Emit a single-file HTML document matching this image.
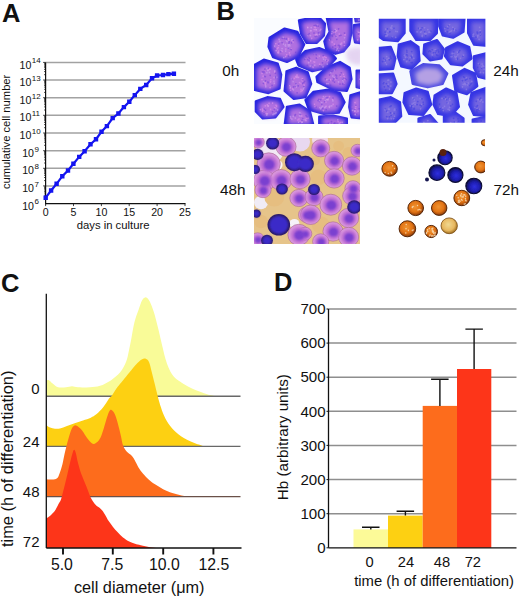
<!DOCTYPE html>
<html><head><meta charset="utf-8"><style>
html,body{margin:0;padding:0;background:#fff;width:520px;height:599px;overflow:hidden}
svg{display:block}
text{font-family:"Liberation Sans", sans-serif;fill:#111}
</style></head><body>
<svg width="520" height="599" viewBox="0 0 520 599">
<rect width="520" height="599" fill="#fff"/>
<g id="A">
<text x="2" y="21.7" font-size="25.5" font-weight="bold">A</text>
<line x1="45.6" y1="185.9" x2="185.5" y2="185.9" stroke="#a2a2a2" stroke-width="1.5"/>
<line x1="45.6" y1="168.3" x2="185.5" y2="168.3" stroke="#a2a2a2" stroke-width="1.5"/>
<line x1="45.6" y1="150.7" x2="185.5" y2="150.7" stroke="#a2a2a2" stroke-width="1.5"/>
<line x1="45.6" y1="133.0" x2="185.5" y2="133.0" stroke="#a2a2a2" stroke-width="1.5"/>
<line x1="45.6" y1="115.3" x2="185.5" y2="115.3" stroke="#a2a2a2" stroke-width="1.5"/>
<line x1="45.6" y1="97.7" x2="185.5" y2="97.7" stroke="#a2a2a2" stroke-width="1.5"/>
<line x1="45.6" y1="80.0" x2="185.5" y2="80.0" stroke="#a2a2a2" stroke-width="1.5"/>
<line x1="45.6" y1="62.4" x2="185.5" y2="62.4" stroke="#a2a2a2" stroke-width="1.5"/>
<line x1="45.6" y1="62.4" x2="45.6" y2="204.2" stroke="#111" stroke-width="1.2"/>
<line x1="45.0" y1="203.6" x2="185.5" y2="203.6" stroke="#111" stroke-width="1.2"/>
<path d="M45.6,198.3h-1.5M45.6,195.2h-1.5M45.6,193.0h-1.5M45.6,191.3h-1.5M45.6,189.9h-1.5M45.6,188.7h-1.5M45.6,187.7h-1.5M45.6,186.8h-1.5M45.6,185.9h-2.5M45.6,180.6h-1.5M45.6,177.5h-1.5M45.6,175.3h-1.5M45.6,173.6h-1.5M45.6,172.2h-1.5M45.6,171.0h-1.5M45.6,170.0h-1.5M45.6,169.1h-1.5M45.6,168.3h-2.5M45.6,163.0h-1.5M45.6,159.9h-1.5M45.6,157.7h-1.5M45.6,156.0h-1.5M45.6,154.6h-1.5M45.6,153.4h-1.5M45.6,152.4h-1.5M45.6,151.5h-1.5M45.6,150.7h-2.5M45.6,145.3h-1.5M45.6,142.2h-1.5M45.6,140.0h-1.5M45.6,138.3h-1.5M45.6,136.9h-1.5M45.6,135.7h-1.5M45.6,134.7h-1.5M45.6,133.8h-1.5M45.6,133.0h-2.5M45.6,127.7h-1.5M45.6,124.6h-1.5M45.6,122.4h-1.5M45.6,120.7h-1.5M45.6,119.3h-1.5M45.6,118.1h-1.5M45.6,117.1h-1.5M45.6,116.2h-1.5M45.6,115.3h-2.5M45.6,110.0h-1.5M45.6,106.9h-1.5M45.6,104.7h-1.5M45.6,103.0h-1.5M45.6,101.6h-1.5M45.6,100.4h-1.5M45.6,99.4h-1.5M45.6,98.5h-1.5M45.6,97.7h-2.5M45.6,92.4h-1.5M45.6,89.3h-1.5M45.6,87.1h-1.5M45.6,85.4h-1.5M45.6,84.0h-1.5M45.6,82.8h-1.5M45.6,81.8h-1.5M45.6,80.9h-1.5M45.6,80.0h-2.5M45.6,74.7h-1.5M45.6,71.6h-1.5M45.6,69.4h-1.5M45.6,67.7h-1.5M45.6,66.3h-1.5M45.6,65.1h-1.5M45.6,64.1h-1.5M45.6,63.2h-1.5M45.6,62.4h-2.5" stroke="#111" stroke-width="0.8" fill="none"/>
<path d="M45.6,203.6v2.5M73.5,203.6v2.5M101.4,203.6v2.5M129.2,203.6v2.5M157.1,203.6v2.5M185.0,203.6v2.5" stroke="#111" stroke-width="0.8" fill="none"/>
<text x="34.0" y="209.7" font-size="10.6" text-anchor="end">10</text>
<text x="34.6" y="204.4" font-size="8">6</text>
<text x="34.0" y="192.0" font-size="10.6" text-anchor="end">10</text>
<text x="34.6" y="186.8" font-size="8">7</text>
<text x="34.0" y="174.4" font-size="10.6" text-anchor="end">10</text>
<text x="34.6" y="169.1" font-size="8">8</text>
<text x="34.0" y="156.8" font-size="10.6" text-anchor="end">10</text>
<text x="34.6" y="151.5" font-size="8">9</text>
<text x="31.4" y="139.1" font-size="10.6" text-anchor="end">10</text>
<text x="31.7" y="133.8" font-size="8">10</text>
<text x="31.4" y="121.4" font-size="10.6" text-anchor="end">10</text>
<text x="31.7" y="116.1" font-size="8">11</text>
<text x="31.4" y="103.8" font-size="10.6" text-anchor="end">10</text>
<text x="31.7" y="98.5" font-size="8">12</text>
<text x="31.4" y="86.1" font-size="10.6" text-anchor="end">10</text>
<text x="31.7" y="80.8" font-size="8">13</text>
<text x="31.4" y="68.5" font-size="10.6" text-anchor="end">10</text>
<text x="31.7" y="63.2" font-size="8">14</text>
<text x="45.6" y="215.6" font-size="10.6" text-anchor="middle">0</text>
<text x="73.5" y="215.6" font-size="10.6" text-anchor="middle">5</text>
<text x="101.4" y="215.6" font-size="10.6" text-anchor="middle">10</text>
<text x="129.2" y="215.6" font-size="10.6" text-anchor="middle">15</text>
<text x="157.1" y="215.6" font-size="10.6" text-anchor="middle">20</text>
<text x="185.0" y="215.6" font-size="10.6" text-anchor="middle">25</text>
<text x="113.1" y="229.3" font-size="11.3" text-anchor="middle">days in culture</text>
<text transform="translate(10.3,131.9) rotate(-90)" font-size="11.2" text-anchor="middle">cumulative cell number</text>
<polyline points="45.7,197.7 51.1,190.5 56.6,183.8 62.3,176.2 68.0,170.5 73.4,163.8 79.2,156.9 84.6,151.2 90.5,144.2 96.0,139.2 101.5,131.8 106.9,126.1 112.7,118.1 118.4,113.5 123.9,107.1 129.3,101.7 134.8,95.1 140.3,88.9 146.2,85.0 152.0,78.3 157.1,75.5 163.0,75.0 168.4,74.1 173.9,73.7" fill="none" stroke="#1414f0" stroke-width="2.2"/>
<path d="M43.5,195.5h4.4v4.4h-4.4zM48.9,188.3h4.4v4.4h-4.4zM54.4,181.6h4.4v4.4h-4.4zM60.1,174.0h4.4v4.4h-4.4zM65.8,168.3h4.4v4.4h-4.4zM71.2,161.6h4.4v4.4h-4.4zM77.0,154.7h4.4v4.4h-4.4zM82.4,149.0h4.4v4.4h-4.4zM88.3,142.0h4.4v4.4h-4.4zM93.8,137.0h4.4v4.4h-4.4zM99.3,129.6h4.4v4.4h-4.4zM104.7,123.9h4.4v4.4h-4.4zM110.5,115.9h4.4v4.4h-4.4zM116.2,111.3h4.4v4.4h-4.4zM121.7,104.9h4.4v4.4h-4.4zM127.1,99.5h4.4v4.4h-4.4zM132.6,92.9h4.4v4.4h-4.4zM138.1,86.7h4.4v4.4h-4.4zM144.0,82.8h4.4v4.4h-4.4zM149.8,76.1h4.4v4.4h-4.4zM154.9,73.3h4.4v4.4h-4.4zM160.8,72.8h4.4v4.4h-4.4zM166.2,71.9h4.4v4.4h-4.4zM171.7,71.5h4.4v4.4h-4.4z" fill="#1414f0"/>
</g>
<g id="C">
<text x="1" y="291.5" font-size="25.5" font-weight="bold">C</text>
<path d="M46.0,380.4C46.5,380.4 48.0,379.8 49.0,380.2C50.0,380.6 50.5,381.8 52.0,383.0C53.5,384.2 55.7,386.5 58.0,387.2C60.3,387.9 63.7,387.5 66.0,387.3C68.3,387.1 70.0,386.2 72.0,386.2C74.0,386.2 75.0,387.1 78.0,387.3C81.0,387.5 86.3,387.4 90.0,387.2C93.7,386.9 96.5,386.9 100.0,385.8C103.5,384.7 107.4,382.6 110.8,380.4C114.2,378.1 117.6,375.4 120.2,372.3C122.8,369.2 124.8,365.1 126.2,361.5C127.7,357.9 128.0,354.8 128.9,350.8C129.8,346.8 130.6,342.5 131.5,337.7C132.4,332.9 133.3,326.6 134.5,322.0C135.7,317.4 137.2,313.6 138.5,310.0C139.8,306.4 140.9,302.6 142.0,300.5C143.1,298.4 144.1,297.6 145.2,297.4C146.3,297.2 147.4,298.1 148.5,299.5C149.6,300.9 150.5,303.0 151.5,305.5C152.5,308.0 153.6,311.2 154.6,314.6C155.6,318.0 156.5,321.9 157.5,325.8C158.5,329.7 159.5,334.1 160.4,338.0C161.3,341.9 162.2,345.5 163.0,349.0C163.8,352.5 164.6,355.9 165.5,359.0C166.4,362.1 167.4,364.9 168.5,367.5C169.6,370.1 170.8,372.4 172.0,374.3C173.2,376.2 174.7,377.6 176.0,378.8C177.3,380.0 178.0,380.3 180.0,381.6C182.0,382.9 185.3,385.2 188.0,386.6C190.7,388.1 193.3,389.2 196.0,390.3C198.7,391.4 201.7,392.4 204.0,393.2C206.3,394.0 208.0,394.5 210.0,395.0C212.0,395.5 215.0,396.0 216.0,396.2L216.0,396.2L46.0,396.2Z" fill="#f9fb98"/>
<line x1="46.3" y1="396.2" x2="240.5" y2="396.2" stroke="#686868" stroke-width="1.4"/>
<path d="M46.0,425.0C46.7,425.4 48.5,426.9 50.0,427.5C51.5,428.1 53.3,428.5 55.0,428.7C56.7,428.9 58.0,428.9 60.0,428.5C62.0,428.1 64.4,426.9 67.0,426.0C69.6,425.1 72.7,423.9 75.4,423.0C78.1,422.1 80.4,421.4 83.0,420.5C85.6,419.6 88.6,418.7 90.8,417.7C93.0,416.7 94.5,415.8 96.0,414.6C97.5,413.5 98.8,412.0 100.0,410.8C101.2,409.6 102.0,408.7 103.0,407.4C104.0,406.1 105.2,404.5 106.2,403.0C107.2,401.5 108.0,399.8 109.0,398.5C110.0,397.2 110.7,397.1 112.1,395.2C113.5,393.3 115.7,389.6 117.5,387.1C119.3,384.6 120.9,382.9 122.9,380.4C124.9,377.9 127.4,375.0 129.6,372.3C131.8,369.6 134.3,366.3 136.3,364.2C138.3,362.1 140.1,360.4 141.7,359.5C143.3,358.6 144.6,358.4 145.8,358.8C147.0,359.2 148.1,359.9 149.1,362.2C150.1,364.4 150.9,368.8 151.8,372.3C152.7,375.8 153.7,379.8 154.5,383.1C155.3,386.4 155.9,389.0 156.7,392.0C157.4,395.0 158.3,398.4 159.0,401.0C159.7,403.6 160.3,405.4 161.0,407.5C161.7,409.6 162.2,411.4 163.0,413.3C163.8,415.2 164.6,417.1 165.5,418.8C166.4,420.6 167.4,422.2 168.5,423.8C169.6,425.4 170.8,426.9 172.0,428.3C173.2,429.7 174.5,431.0 176.0,432.3C177.5,433.6 179.2,435.0 181.0,436.2C182.8,437.4 184.7,438.5 187.0,439.7C189.3,440.9 192.1,442.1 195.0,443.2C197.9,444.3 203.0,445.9 204.6,446.4L204.6,446.4L46.0,446.4Z" fill="#fdd012"/>
<line x1="46.3" y1="446.4" x2="240.5" y2="446.4" stroke="#686868" stroke-width="1.4"/>
<path d="M46.0,479.2C46.7,479.2 48.5,479.5 50.0,479.5C51.5,479.5 53.7,479.6 55.0,479.2C56.3,478.8 57.2,478.3 58.0,477.2C58.8,476.1 59.2,474.5 60.0,472.3C60.8,470.1 61.7,467.1 62.5,464.0C63.3,460.9 63.9,456.8 64.6,453.8C65.3,450.8 65.8,448.6 66.5,446.0C67.2,443.4 67.7,441.3 68.5,438.5C69.3,435.7 70.5,431.4 71.5,429.2C72.5,427.0 73.4,425.8 74.6,425.4C75.8,425.0 77.2,426.1 78.5,427.0C79.8,427.9 80.9,429.0 82.3,430.8C83.7,432.6 85.4,435.7 86.9,437.7C88.4,439.7 90.2,442.0 91.5,443.0C92.8,444.0 93.4,444.2 94.6,443.8C95.8,443.4 97.4,442.0 98.5,440.8C99.6,439.6 100.2,438.2 101.0,436.5C101.8,434.8 102.1,433.6 103.0,430.8C103.9,428.1 105.2,423.2 106.2,420.0C107.2,416.8 108.3,413.2 109.2,411.5C110.1,409.8 110.6,409.6 111.5,410.0C112.4,410.4 113.6,411.6 114.6,413.8C115.6,416.0 116.7,419.4 117.7,423.0C118.7,426.6 119.9,431.6 120.8,435.4C121.7,439.1 122.1,442.8 123.1,445.5C124.1,448.2 125.5,450.1 126.9,451.8C128.3,453.5 130.2,454.2 131.5,455.6C132.8,457.0 133.4,458.0 134.6,460.0C135.8,462.0 137.1,465.1 138.5,467.4C139.9,469.7 141.3,471.7 143.1,473.8C144.9,475.9 147.1,478.2 149.2,480.0C151.2,481.8 153.1,483.1 155.4,484.6C157.7,486.1 160.3,487.8 163.1,489.2C165.9,490.6 169.2,492.1 172.3,493.1C175.4,494.1 178.2,494.8 181.5,495.4C184.8,496.0 189.7,496.3 192.3,496.5C194.9,496.7 196.2,496.5 197.0,496.5L197.0,496.6L46.0,496.6Z" fill="#fd6c1c"/>
<line x1="46.3" y1="496.6" x2="240.5" y2="496.6" stroke="#6a5048" stroke-width="1.4"/>
<path d="M46.0,518.5C46.4,518.2 47.5,517.8 48.5,517.0C49.5,516.2 50.9,515.2 52.0,514.0C53.1,512.8 54.3,511.7 55.4,510.0C56.5,508.3 57.6,505.7 58.5,504.0C59.4,502.3 60.0,502.0 60.8,500.0C61.5,498.0 62.0,495.7 63.0,492.0C64.0,488.3 65.3,482.8 66.5,478.0C67.7,473.2 69.0,467.0 70.0,463.0C71.0,459.0 71.6,456.2 72.3,454.0C73.0,451.8 73.4,450.0 74.0,449.8C74.6,449.6 75.1,450.8 75.8,453.0C76.5,455.2 77.0,459.4 78.0,463.0C79.0,466.6 80.1,470.8 81.5,474.6C82.9,478.4 84.7,482.1 86.2,486.0C87.8,489.9 89.2,494.5 90.8,497.7C92.4,500.9 94.4,503.4 95.8,505.0C97.2,506.6 98.0,506.5 99.2,507.5C100.4,508.5 101.7,509.7 102.7,511.0C103.8,512.3 104.5,513.9 105.5,515.5C106.5,517.1 107.2,518.9 108.5,520.8C109.8,522.7 111.5,525.1 113.0,527.0C114.5,528.9 116.0,530.5 117.7,532.3C119.4,534.0 121.1,536.0 123.0,537.5C124.9,539.0 127.2,540.5 129.2,541.5C131.2,542.5 133.1,543.2 135.0,543.8C136.9,544.4 138.3,544.6 140.8,545.2C143.3,545.8 147.2,546.7 150.0,547.2C152.8,547.7 156.1,547.9 157.3,548.0L157.3,548.0L46.0,548.0Z" fill="#fd3519"/>
<line x1="46.3" y1="293.8" x2="46.3" y2="548.0" stroke="#111" stroke-width="1.3"/>
<line x1="46.3" y1="548.0" x2="241.5" y2="548.0" stroke="#111" stroke-width="1.3"/>
<line x1="63.0" y1="548.0" x2="63.0" y2="554.5" stroke="#111" stroke-width="1.9"/>
<line x1="112.8" y1="548.0" x2="112.8" y2="554.5" stroke="#111" stroke-width="1.9"/>
<line x1="163.2" y1="548.0" x2="163.2" y2="554.5" stroke="#111" stroke-width="1.9"/>
<line x1="213.4" y1="548.0" x2="213.4" y2="554.5" stroke="#111" stroke-width="1.9"/>
<text x="61.9" y="569.8" font-size="15.8" text-anchor="middle">5.0</text>
<text x="112.3" y="569.8" font-size="15.8" text-anchor="middle">7.5</text>
<text x="164.3" y="569.8" font-size="15.8" text-anchor="middle">10.0</text>
<text x="213.9" y="569.8" font-size="15.8" text-anchor="middle">12.5</text>
<text x="73.9" y="592.8" font-size="16.3">cell diameter (μm)</text>
<text x="39.5" y="394.0" font-size="15" text-anchor="end">0</text>
<text x="39.5" y="446.5" font-size="15" text-anchor="end">24</text>
<text x="39.5" y="497.0" font-size="15" text-anchor="end">48</text>
<text x="39.5" y="547.0" font-size="15" text-anchor="end">72</text>
<text transform="translate(13.2,458.8) rotate(-90)" font-size="16.4" text-anchor="middle">time (h of differentiation)</text>
</g>
<g id="D">
<text x="274" y="291.2" font-size="25.5" font-weight="bold">D</text>
<line x1="328.5" y1="513.7" x2="516.5" y2="513.7" stroke="#8e8e8e" stroke-width="1.5"/>
<line x1="328.5" y1="479.6" x2="516.5" y2="479.6" stroke="#8e8e8e" stroke-width="1.5"/>
<line x1="328.5" y1="445.4" x2="516.5" y2="445.4" stroke="#8e8e8e" stroke-width="1.5"/>
<line x1="328.5" y1="411.3" x2="516.5" y2="411.3" stroke="#8e8e8e" stroke-width="1.5"/>
<line x1="328.5" y1="377.2" x2="516.5" y2="377.2" stroke="#8e8e8e" stroke-width="1.5"/>
<line x1="328.5" y1="343.1" x2="516.5" y2="343.1" stroke="#8e8e8e" stroke-width="1.5"/>
<line x1="328.5" y1="309.0" x2="516.5" y2="309.0" stroke="#8e8e8e" stroke-width="1.5"/>
<rect x="353.5" y="529.4" width="34.5" height="18.4" fill="#fcfa98"/>
<rect x="388.0" y="515.6" width="34.7" height="32.2" fill="#fdd012"/>
<rect x="422.7" y="405.9" width="34.3" height="141.9" fill="#fd6c1c"/>
<rect x="457.0" y="369.0" width="34.3" height="178.8" fill="#fd3519"/>
<path d="M370.8,529.4V527.3M362.0,527.3h17.5" stroke="#111" stroke-width="1.4" fill="none"/>
<path d="M405.4,515.6V511.3M396.6,511.3h17.5" stroke="#111" stroke-width="1.4" fill="none"/>
<path d="M439.9,405.9V379.2M431.1,379.2h17.5" stroke="#111" stroke-width="1.4" fill="none"/>
<path d="M474.1,369.0V329.1M465.4,329.1h17.5" stroke="#111" stroke-width="1.4" fill="none"/>
<line x1="328.5" y1="309.0" x2="328.5" y2="547.8" stroke="#111" stroke-width="1.3"/>
<line x1="328.5" y1="547.8" x2="516.5" y2="547.8" stroke="#111" stroke-width="1.3"/>
<path d="M328.5,547.8h-2M328.5,513.7h-2M328.5,479.6h-2M328.5,445.4h-2M328.5,411.3h-2M328.5,377.2h-2M328.5,343.1h-2M328.5,309.0h-2" stroke="#111" stroke-width="1" fill="none"/>
<text x="325.6" y="553.0" font-size="15.1" text-anchor="end">0</text>
<text x="325.6" y="518.9" font-size="15.1" text-anchor="end">100</text>
<text x="325.6" y="484.8" font-size="15.1" text-anchor="end">200</text>
<text x="325.6" y="450.6" font-size="15.1" text-anchor="end">300</text>
<text x="325.6" y="416.5" font-size="15.1" text-anchor="end">400</text>
<text x="325.6" y="382.4" font-size="15.1" text-anchor="end">500</text>
<text x="325.6" y="348.3" font-size="15.1" text-anchor="end">600</text>
<text x="325.6" y="314.2" font-size="15.1" text-anchor="end">700</text>
<text x="369.6" y="566.5" font-size="14.7" text-anchor="middle">0</text>
<text x="406.0" y="566.5" font-size="14.7" text-anchor="middle">24</text>
<text x="442.0" y="566.5" font-size="14.7" text-anchor="middle">48</text>
<text x="472.8" y="566.5" font-size="14.7" text-anchor="middle">72</text>
<text x="354.2" y="586" font-size="14.85">time (h of differentiation)</text>
<text transform="translate(287.6,437.2) rotate(-90)" font-size="15.25" text-anchor="middle">Hb (arbitrary units)</text>
</g>
<g id="B">
<text x="216.5" y="19.8" font-size="25.5" font-weight="bold">B</text>
<text x="222.3" y="76.4" font-size="15.3">0h</text>
<text x="493.2" y="76.3" font-size="15.3">24h</text>
<text x="219.9" y="194.8" font-size="15.3">48h</text>
<text x="493.5" y="194.6" font-size="15.3">72h</text>
<defs>
<clipPath id="c0"><rect x="254" y="18" width="106" height="106"/></clipPath>
<clipPath id="c24"><rect x="378.8" y="18.8" width="106.6" height="104"/></clipPath>
<clipPath id="c48"><rect x="254" y="138" width="106" height="106"/></clipPath>
<clipPath id="c72"><rect x="379" y="138" width="106" height="106"/></clipPath>
<radialGradient id="g0" cx="50%" cy="50%" r="60%"><stop offset="0" stop-color="#c08ad8"/><stop offset="0.55" stop-color="#a070d8"/><stop offset="0.85" stop-color="#5040e0"/><stop offset="1" stop-color="#2c2ce0"/></radialGradient>
<radialGradient id="g24" cx="50%" cy="50%" r="60%"><stop offset="0" stop-color="#8a78dc"/><stop offset="0.6" stop-color="#6a5ce0"/><stop offset="1" stop-color="#3434e4"/></radialGradient>
<radialGradient id="g24p" cx="50%" cy="50%" r="60%"><stop offset="0" stop-color="#b898e0"/><stop offset="0.6" stop-color="#9a80dc"/><stop offset="1" stop-color="#4a44e0"/></radialGradient>
<radialGradient id="gp" cx="50%" cy="50%" r="55%"><stop offset="0" stop-color="#7a3cd0"/><stop offset="0.5" stop-color="#9a5cd0"/><stop offset="1" stop-color="#c890d0"/></radialGradient>
<radialGradient id="gb" cx="50%" cy="50%" r="55%"><stop offset="0" stop-color="#3a30c8"/><stop offset="0.8" stop-color="#3020a0"/><stop offset="1" stop-color="#201860"/></radialGradient>
<radialGradient id="go" cx="45%" cy="42%" r="58%"><stop offset="0" stop-color="#f09434"/><stop offset="0.6" stop-color="#e27414"/><stop offset="0.88" stop-color="#a84c0c"/><stop offset="1" stop-color="#6a3008"/></radialGradient>
<radialGradient id="gy" cx="45%" cy="42%" r="58%"><stop offset="0" stop-color="#f0d890"/><stop offset="0.65" stop-color="#e8b860"/><stop offset="1" stop-color="#a07020"/></radialGradient>
<radialGradient id="gdb" cx="55%" cy="55%" r="55%"><stop offset="0" stop-color="#2e2ee0"/><stop offset="0.55" stop-color="#1e1eb0"/><stop offset="0.85" stop-color="#141470"/><stop offset="1" stop-color="#0a0a30"/></radialGradient>
<filter id="bl" x="-5%" y="-5%" width="110%" height="110%"><feGaussianBlur stdDeviation="0.6"/></filter>
<filter id="bl2s" x="-30%" y="-30%" width="160%" height="160%"><feGaussianBlur stdDeviation="1.2"/></filter>
<filter id="bl2" x="-30%" y="-30%" width="160%" height="160%"><feGaussianBlur stdDeviation="2.2"/></filter>
</defs>
<g clip-path="url(#c0)"><g filter="url(#bl)">
<rect x="254" y="18" width="106" height="106" fill="#fafcff"/>
<path d="M298.9,20.4L308.9,18.3L320.4,18.8L325.0,23.8L323.9,35.4L316.9,42.8L306.5,42.8L301.2,34.2Z" fill="#2424e0" stroke="#2424e0" stroke-width="2.2" stroke-linejoin="round"/>
<path d="M326.6,16.9L351.5,16.9L351.5,31.9L349.2,44.6L343.5,51.5L335.4,53.8L326.2,49.2L324.3,41.2L329.6,31.9Z" fill="#2424e0" stroke="#2424e0" stroke-width="2.2" stroke-linejoin="round"/>
<path d="M353.9,25.0L361.9,23.8L361.9,43.5L355.0,42.3L353.2,33.1Z" fill="#2424e0" stroke="#2424e0" stroke-width="2.2" stroke-linejoin="round"/>
<path d="M355.0,16.9L361.9,16.9L361.9,21.5L355.7,21.5Z" fill="#2424e0" stroke="#2424e0" stroke-width="2.2" stroke-linejoin="round"/>
<path d="M269.6,37.7L284.6,28.5L297.3,31.9L304.2,44.6L298.5,56.2L286.9,61.9L273.1,57.3L268.5,46.9Z" fill="#2424e0" stroke="#2424e0" stroke-width="2.2" stroke-linejoin="round"/>
<path d="M296.2,59.6L305.4,51.1L319.2,48.1L330.8,52.7L335.9,58.5L327.3,67.7L312.3,71.2L298.5,65.4Z" fill="#2424e0" stroke="#2424e0" stroke-width="2.2" stroke-linejoin="round"/>
<path d="M253.5,65.4L263.8,59.6L277.7,63.5L281.2,74.6L279.5,88.5L268.5,93.1L253.5,89.6Z" fill="#2424e0" stroke="#2424e0" stroke-width="2.2" stroke-linejoin="round"/>
<path d="M286.5,71.2L296.2,67.7L307.7,72.3L311.2,83.9L305.4,97.2L293.8,98.9L284.6,90.8L285.8,79.2Z" fill="#2424e0" stroke="#2424e0" stroke-width="2.2" stroke-linejoin="round"/>
<path d="M316.5,76.9L326.2,67.7L340.0,61.9L349.7,67.7L351.5,79.2L346.9,90.8L333.1,89.6L317.4,82.0Z" fill="#2424e0" stroke="#2424e0" stroke-width="2.2" stroke-linejoin="round"/>
<path d="M356.6,70.5L361.9,70.5L361.9,88.5L356.6,87.3Z" fill="#2424e0" stroke="#2424e0" stroke-width="2.2" stroke-linejoin="round"/>
<path d="M305.4,100.0L313.5,91.9L328.5,89.6L340.0,93.1L344.6,102.3L338.9,112.7L323.9,113.9L308.9,109.7Z" fill="#2424e0" stroke="#2424e0" stroke-width="2.2" stroke-linejoin="round"/>
<path d="M255.8,101.2L267.3,97.2L280.0,98.9L283.5,106.9L275.4,117.3L262.7,118.5L255.8,111.5Z" fill="#2424e0" stroke="#2424e0" stroke-width="2.2" stroke-linejoin="round"/>
<path d="M286.9,106.9L299.6,104.6L310.0,111.5L313.5,125.4L284.6,125.4Z" fill="#2424e0" stroke="#2424e0" stroke-width="2.2" stroke-linejoin="round"/>
<path d="M319.2,116.6L333.1,115.7L346.9,118.5L346.9,125.4L319.2,125.4Z" fill="#2424e0" stroke="#2424e0" stroke-width="2.2" stroke-linejoin="round"/>
<path d="M350.4,95.4L361.9,91.9L361.9,118.5L351.5,117.3L349.2,106.9Z" fill="#2424e0" stroke="#2424e0" stroke-width="2.2" stroke-linejoin="round"/>
<path d="M301.9,22.8L310.0,21.1L319.5,21.5L323.3,25.7L322.3,35.1L316.7,41.2L308.2,41.2L303.8,34.2Z" fill="#b070e0" filter="url(#bl2)"/>
<path d="M329.1,21.4L349.5,21.4L349.5,33.7L347.6,44.1L342.9,49.8L336.3,51.7L328.7,47.9L327.2,41.3L331.5,33.7Z" fill="#b070e0" filter="url(#bl2)"/>
<path d="M355.0,27.3L361.6,26.4L361.6,42.5L355.9,41.5L354.4,34.0Z" fill="#b070e0" filter="url(#bl2)"/>
<path d="M356.2,18.1L361.8,18.1L361.8,21.9L356.7,21.9Z" fill="#b070e0" filter="url(#bl2)"/>
<path d="M272.9,39.9L285.2,32.4L295.7,35.2L301.3,45.6L296.6,55.1L287.1,59.8L275.8,56.0L272.0,47.5Z" fill="#b070e0" filter="url(#bl2)"/>
<path d="M300.2,60.4L307.7,53.4L319.1,50.9L328.6,54.7L332.7,59.4L325.7,67.0L313.4,69.8L302.1,65.1Z" fill="#b070e0" filter="url(#bl2)"/>
<path d="M256.6,68.2L265.1,63.4L276.5,66.6L279.3,75.7L278.0,87.1L268.9,90.9L256.6,88.0Z" fill="#b070e0" filter="url(#bl2)"/>
<path d="M288.8,74.0L296.7,71.2L306.2,75.0L309.0,84.4L304.3,95.4L294.8,96.7L287.2,90.1L288.2,80.6Z" fill="#b070e0" filter="url(#bl2)"/>
<path d="M320.3,77.7L328.3,70.2L339.6,65.4L347.6,70.2L349.1,79.6L345.3,89.1L334.0,88.1L321.1,81.9Z" fill="#b070e0" filter="url(#bl2)"/>
<path d="M357.6,72.8L362.0,72.8L362.0,87.6L357.6,86.6Z" fill="#b070e0" filter="url(#bl2)"/>
<path d="M309.5,101.1L316.1,94.5L328.4,92.6L337.9,95.4L341.7,103.0L336.9,111.5L324.6,112.5L312.3,109.1Z" fill="#b070e0" filter="url(#bl2)"/>
<path d="M258.6,103.1L268.0,99.9L278.5,101.2L281.3,107.8L274.7,116.3L264.3,117.3L258.6,111.6Z" fill="#b070e0" filter="url(#bl2)"/>
<path d="M289.6,109.1L300.0,107.3L308.5,112.9L311.3,124.3L287.7,124.3Z" fill="#b070e0" filter="url(#bl2)"/>
<path d="M322.2,118.1L333.6,117.3L344.9,119.6L344.9,125.3L322.2,125.3Z" fill="#b070e0" filter="url(#bl2)"/>
<path d="M351.7,98.1L361.2,95.3L361.2,117.0L352.7,116.1L350.8,107.6Z" fill="#b070e0" filter="url(#bl2)"/>
<path d="M310.6,29.8a0.8,0.8 0 1,0 0.01,0zM317.1,34.3a0.8,0.8 0 1,0 0.01,0zM314.4,26.1a0.8,0.8 0 1,0 0.01,0zM311.7,37.6a0.8,0.8 0 1,0 0.01,0zM307.6,26.4a0.8,0.8 0 1,0 0.01,0zM316.2,28.9a0.8,0.8 0 1,0 0.01,0zM315.5,34.1a0.8,0.8 0 1,0 0.01,0zM314.2,28.8a0.8,0.8 0 1,0 0.01,0zM320.8,28.6a0.8,0.8 0 1,0 0.01,0zM315.4,26.8a0.8,0.8 0 1,0 0.01,0zM341.7,42.3a0.8,0.8 0 1,0 0.01,0zM339.3,33.3a0.8,0.8 0 1,0 0.01,0zM336.7,35.2a0.8,0.8 0 1,0 0.01,0zM334.1,31.8a0.8,0.8 0 1,0 0.01,0zM338.7,49.9a0.8,0.8 0 1,0 0.01,0zM345.1,34.1a0.8,0.8 0 1,0 0.01,0zM329.5,38.9a0.8,0.8 0 1,0 0.01,0zM344.5,44.5a0.8,0.8 0 1,0 0.01,0zM334.3,43.2a0.8,0.8 0 1,0 0.01,0zM332.1,41.2a0.8,0.8 0 1,0 0.01,0zM336.8,30.1a0.8,0.8 0 1,0 0.01,0zM335.3,31.5a0.8,0.8 0 1,0 0.01,0zM331.7,32.8a0.8,0.8 0 1,0 0.01,0zM344.4,42.5a0.8,0.8 0 1,0 0.01,0zM357.6,39.0a0.8,0.8 0 1,0 0.01,0zM359.6,31.9a0.8,0.8 0 1,0 0.01,0zM359.8,35.8a0.8,0.8 0 1,0 0.01,0zM359.3,34.3a0.8,0.8 0 1,0 0.01,0zM290.0,54.2a0.8,0.8 0 1,0 0.01,0zM275.8,42.9a0.8,0.8 0 1,0 0.01,0zM289.4,52.1a0.8,0.8 0 1,0 0.01,0zM277.9,51.6a0.8,0.8 0 1,0 0.01,0zM291.0,48.0a0.8,0.8 0 1,0 0.01,0zM286.7,53.9a0.8,0.8 0 1,0 0.01,0zM278.1,46.7a0.8,0.8 0 1,0 0.01,0zM278.7,44.2a0.8,0.8 0 1,0 0.01,0zM288.7,39.3a0.8,0.8 0 1,0 0.01,0zM278.4,50.2a0.8,0.8 0 1,0 0.01,0zM285.8,48.2a0.8,0.8 0 1,0 0.01,0zM277.5,47.8a0.8,0.8 0 1,0 0.01,0zM292.7,39.1a0.8,0.8 0 1,0 0.01,0zM293.0,41.2a0.8,0.8 0 1,0 0.01,0zM285.6,55.8a0.8,0.8 0 1,0 0.01,0zM282.2,50.4a0.8,0.8 0 1,0 0.01,0zM288.5,37.8a0.8,0.8 0 1,0 0.01,0zM327.1,60.7a0.8,0.8 0 1,0 0.01,0zM323.0,56.5a0.8,0.8 0 1,0 0.01,0zM310.7,60.1a0.8,0.8 0 1,0 0.01,0zM319.6,63.5a0.8,0.8 0 1,0 0.01,0zM324.3,55.9a0.8,0.8 0 1,0 0.01,0zM314.7,61.3a0.8,0.8 0 1,0 0.01,0zM325.6,56.4a0.8,0.8 0 1,0 0.01,0zM328.0,59.5a0.8,0.8 0 1,0 0.01,0zM326.1,56.7a0.8,0.8 0 1,0 0.01,0zM313.1,66.6a0.8,0.8 0 1,0 0.01,0zM314.1,53.6a0.8,0.8 0 1,0 0.01,0zM314.0,61.0a0.8,0.8 0 1,0 0.01,0zM317.4,56.7a0.8,0.8 0 1,0 0.01,0zM268.3,69.0a0.8,0.8 0 1,0 0.01,0zM270.8,78.9a0.8,0.8 0 1,0 0.01,0zM264.7,81.9a0.8,0.8 0 1,0 0.01,0zM262.0,78.7a0.8,0.8 0 1,0 0.01,0zM269.1,68.5a0.8,0.8 0 1,0 0.01,0zM274.1,76.7a0.8,0.8 0 1,0 0.01,0zM270.1,68.3a0.8,0.8 0 1,0 0.01,0zM270.1,86.7a0.8,0.8 0 1,0 0.01,0zM274.7,71.2a0.8,0.8 0 1,0 0.01,0zM262.0,72.6a0.8,0.8 0 1,0 0.01,0zM265.6,82.3a0.8,0.8 0 1,0 0.01,0zM264.7,70.4a0.8,0.8 0 1,0 0.01,0zM263.1,75.5a0.8,0.8 0 1,0 0.01,0zM270.6,81.1a0.8,0.8 0 1,0 0.01,0zM265.4,83.3a0.8,0.8 0 1,0 0.01,0zM301.0,90.6a0.8,0.8 0 1,0 0.01,0zM302.4,89.6a0.8,0.8 0 1,0 0.01,0zM295.7,75.7a0.8,0.8 0 1,0 0.01,0zM290.2,87.2a0.8,0.8 0 1,0 0.01,0zM294.3,77.6a0.8,0.8 0 1,0 0.01,0zM297.0,74.3a0.8,0.8 0 1,0 0.01,0zM302.3,78.1a0.8,0.8 0 1,0 0.01,0zM302.3,79.9a0.8,0.8 0 1,0 0.01,0zM301.0,88.6a0.8,0.8 0 1,0 0.01,0zM295.7,86.5a0.8,0.8 0 1,0 0.01,0zM296.0,76.6a0.8,0.8 0 1,0 0.01,0zM296.9,75.6a0.8,0.8 0 1,0 0.01,0zM304.1,84.2a0.8,0.8 0 1,0 0.01,0zM298.6,76.5a0.8,0.8 0 1,0 0.01,0zM290.6,89.4a0.8,0.8 0 1,0 0.01,0zM301.1,82.8a0.8,0.8 0 1,0 0.01,0zM299.6,81.7a0.8,0.8 0 1,0 0.01,0zM292.5,88.1a0.8,0.8 0 1,0 0.01,0zM289.8,84.9a0.8,0.8 0 1,0 0.01,0zM345.0,78.7a0.8,0.8 0 1,0 0.01,0zM343.5,73.4a0.8,0.8 0 1,0 0.01,0zM340.8,75.4a0.8,0.8 0 1,0 0.01,0zM330.4,78.7a0.8,0.8 0 1,0 0.01,0zM343.8,82.9a0.8,0.8 0 1,0 0.01,0zM333.1,71.6a0.8,0.8 0 1,0 0.01,0zM326.7,82.8a0.8,0.8 0 1,0 0.01,0zM334.9,69.2a0.8,0.8 0 1,0 0.01,0zM344.1,75.7a0.8,0.8 0 1,0 0.01,0zM335.9,78.4a0.8,0.8 0 1,0 0.01,0zM325.7,96.2a0.8,0.8 0 1,0 0.01,0zM325.9,101.2a0.8,0.8 0 1,0 0.01,0zM327.9,98.1a0.8,0.8 0 1,0 0.01,0zM323.4,109.8a0.8,0.8 0 1,0 0.01,0zM332.5,98.5a0.8,0.8 0 1,0 0.01,0zM315.2,105.7a0.8,0.8 0 1,0 0.01,0zM314.5,103.4a0.8,0.8 0 1,0 0.01,0zM329.2,105.9a0.8,0.8 0 1,0 0.01,0zM319.8,100.9a0.8,0.8 0 1,0 0.01,0zM323.0,97.8a0.8,0.8 0 1,0 0.01,0zM327.5,98.7a0.8,0.8 0 1,0 0.01,0zM333.1,103.6a0.8,0.8 0 1,0 0.01,0zM326.1,105.6a0.8,0.8 0 1,0 0.01,0zM329.5,95.8a0.8,0.8 0 1,0 0.01,0zM269.1,102.4a0.8,0.8 0 1,0 0.01,0zM265.3,105.0a0.8,0.8 0 1,0 0.01,0zM262.4,110.3a0.8,0.8 0 1,0 0.01,0zM274.7,106.9a0.8,0.8 0 1,0 0.01,0zM263.1,109.1a0.8,0.8 0 1,0 0.01,0zM276.0,104.5a0.8,0.8 0 1,0 0.01,0zM276.6,105.3a0.8,0.8 0 1,0 0.01,0zM266.4,112.7a0.8,0.8 0 1,0 0.01,0zM260.5,108.7a0.8,0.8 0 1,0 0.01,0zM268.0,105.5a0.8,0.8 0 1,0 0.01,0zM262.5,108.2a0.8,0.8 0 1,0 0.01,0zM272.6,102.3a0.8,0.8 0 1,0 0.01,0zM267.3,104.1a0.8,0.8 0 1,0 0.01,0zM270.6,108.6a0.8,0.8 0 1,0 0.01,0zM306.2,117.5a0.8,0.8 0 1,0 0.01,0zM301.8,115.2a0.8,0.8 0 1,0 0.01,0zM290.8,117.2a0.8,0.8 0 1,0 0.01,0zM299.0,118.3a0.8,0.8 0 1,0 0.01,0zM301.8,121.6a0.8,0.8 0 1,0 0.01,0zM300.0,120.2a0.8,0.8 0 1,0 0.01,0zM306.0,119.8a0.8,0.8 0 1,0 0.01,0zM297.9,119.3a0.8,0.8 0 1,0 0.01,0zM308.0,117.4a0.8,0.8 0 1,0 0.01,0zM338.1,120.9a0.8,0.8 0 1,0 0.01,0zM332.6,123.5a0.8,0.8 0 1,0 0.01,0zM340.5,121.8a0.8,0.8 0 1,0 0.01,0zM355.7,105.7a0.8,0.8 0 1,0 0.01,0zM352.3,106.4a0.8,0.8 0 1,0 0.01,0zM354.8,110.3a0.8,0.8 0 1,0 0.01,0zM355.5,108.0a0.8,0.8 0 1,0 0.01,0zM355.0,101.7a0.8,0.8 0 1,0 0.01,0z" fill="#e898ec" opacity="0.55"/>
<path d="M316.0,29.0a0.8,0.8 0 1,0 0.01,0zM307.9,34.5a0.8,0.8 0 1,0 0.01,0zM307.8,26.9a0.8,0.8 0 1,0 0.01,0zM311.2,26.8a0.8,0.8 0 1,0 0.01,0zM320.0,29.6a0.8,0.8 0 1,0 0.01,0zM310.4,34.7a0.8,0.8 0 1,0 0.01,0zM319.4,33.4a0.8,0.8 0 1,0 0.01,0zM317.5,24.6a0.8,0.8 0 1,0 0.01,0zM311.1,30.0a0.8,0.8 0 1,0 0.01,0zM316.5,33.6a0.8,0.8 0 1,0 0.01,0zM336.7,49.3a0.8,0.8 0 1,0 0.01,0zM335.8,30.4a0.8,0.8 0 1,0 0.01,0zM344.6,36.9a0.8,0.8 0 1,0 0.01,0zM335.9,29.9a0.8,0.8 0 1,0 0.01,0zM334.6,33.1a0.8,0.8 0 1,0 0.01,0zM340.5,43.2a0.8,0.8 0 1,0 0.01,0zM337.1,47.7a0.8,0.8 0 1,0 0.01,0zM335.2,28.8a0.8,0.8 0 1,0 0.01,0zM336.4,36.6a0.8,0.8 0 1,0 0.01,0zM332.1,30.9a0.8,0.8 0 1,0 0.01,0zM344.2,40.9a0.8,0.8 0 1,0 0.01,0zM340.9,43.7a0.8,0.8 0 1,0 0.01,0zM358.8,31.5a0.8,0.8 0 1,0 0.01,0zM357.0,30.9a0.8,0.8 0 1,0 0.01,0zM358.9,19.3a0.8,0.8 0 1,0 0.01,0zM285.7,50.2a0.8,0.8 0 1,0 0.01,0zM278.3,52.0a0.8,0.8 0 1,0 0.01,0zM283.8,56.7a0.8,0.8 0 1,0 0.01,0zM279.9,40.5a0.8,0.8 0 1,0 0.01,0zM283.4,43.2a0.8,0.8 0 1,0 0.01,0zM285.7,45.2a0.8,0.8 0 1,0 0.01,0zM289.5,44.0a0.8,0.8 0 1,0 0.01,0zM291.7,39.2a0.8,0.8 0 1,0 0.01,0zM283.1,36.6a0.8,0.8 0 1,0 0.01,0zM281.5,50.3a0.8,0.8 0 1,0 0.01,0zM288.2,43.8a0.8,0.8 0 1,0 0.01,0zM288.5,46.7a0.8,0.8 0 1,0 0.01,0zM289.9,45.0a0.8,0.8 0 1,0 0.01,0zM287.1,40.9a0.8,0.8 0 1,0 0.01,0zM288.3,45.0a0.8,0.8 0 1,0 0.01,0zM285.2,44.8a0.8,0.8 0 1,0 0.01,0zM274.7,45.2a0.8,0.8 0 1,0 0.01,0zM285.5,43.8a0.8,0.8 0 1,0 0.01,0zM286.4,39.7a0.8,0.8 0 1,0 0.01,0zM276.2,49.7a0.8,0.8 0 1,0 0.01,0zM279.1,38.5a0.8,0.8 0 1,0 0.01,0zM288.7,44.6a0.8,0.8 0 1,0 0.01,0zM282.1,47.8a0.8,0.8 0 1,0 0.01,0zM305.5,57.3a0.8,0.8 0 1,0 0.01,0zM309.8,59.4a0.8,0.8 0 1,0 0.01,0zM308.6,61.8a0.8,0.8 0 1,0 0.01,0zM321.4,64.6a0.8,0.8 0 1,0 0.01,0zM322.7,65.4a0.8,0.8 0 1,0 0.01,0zM310.2,65.2a0.8,0.8 0 1,0 0.01,0zM312.3,64.6a0.8,0.8 0 1,0 0.01,0zM325.4,59.2a0.8,0.8 0 1,0 0.01,0zM327.2,63.2a0.8,0.8 0 1,0 0.01,0zM319.3,55.3a0.8,0.8 0 1,0 0.01,0zM323.5,58.2a0.8,0.8 0 1,0 0.01,0zM323.0,66.0a0.8,0.8 0 1,0 0.01,0zM314.8,64.4a0.8,0.8 0 1,0 0.01,0zM274.0,80.4a0.8,0.8 0 1,0 0.01,0zM274.7,70.0a0.8,0.8 0 1,0 0.01,0zM266.9,72.0a0.8,0.8 0 1,0 0.01,0zM274.7,70.2a0.8,0.8 0 1,0 0.01,0zM274.3,82.5a0.8,0.8 0 1,0 0.01,0zM265.8,86.0a0.8,0.8 0 1,0 0.01,0zM269.4,71.5a0.8,0.8 0 1,0 0.01,0zM263.6,81.0a0.8,0.8 0 1,0 0.01,0zM267.1,67.5a0.8,0.8 0 1,0 0.01,0zM276.8,76.4a0.8,0.8 0 1,0 0.01,0zM265.6,84.8a0.8,0.8 0 1,0 0.01,0zM267.8,69.7a0.8,0.8 0 1,0 0.01,0zM274.7,76.0a0.8,0.8 0 1,0 0.01,0zM303.2,88.2a0.8,0.8 0 1,0 0.01,0zM296.3,85.9a0.8,0.8 0 1,0 0.01,0zM297.2,76.5a0.8,0.8 0 1,0 0.01,0zM293.4,89.0a0.8,0.8 0 1,0 0.01,0zM291.7,78.1a0.8,0.8 0 1,0 0.01,0zM296.1,83.7a0.8,0.8 0 1,0 0.01,0zM290.6,86.3a0.8,0.8 0 1,0 0.01,0zM303.8,86.8a0.8,0.8 0 1,0 0.01,0zM293.1,80.9a0.8,0.8 0 1,0 0.01,0zM332.8,75.2a0.8,0.8 0 1,0 0.01,0zM343.1,81.2a0.8,0.8 0 1,0 0.01,0zM333.5,70.5a0.8,0.8 0 1,0 0.01,0zM328.1,82.7a0.8,0.8 0 1,0 0.01,0zM342.7,79.2a0.8,0.8 0 1,0 0.01,0zM338.5,81.1a0.8,0.8 0 1,0 0.01,0zM342.9,77.7a0.8,0.8 0 1,0 0.01,0zM330.9,71.8a0.8,0.8 0 1,0 0.01,0zM328.2,78.7a0.8,0.8 0 1,0 0.01,0zM334.3,76.5a0.8,0.8 0 1,0 0.01,0zM326.5,78.9a0.8,0.8 0 1,0 0.01,0zM359.9,78.6a0.8,0.8 0 1,0 0.01,0zM331.8,105.1a0.8,0.8 0 1,0 0.01,0zM320.6,107.9a0.8,0.8 0 1,0 0.01,0zM330.0,105.2a0.8,0.8 0 1,0 0.01,0zM325.2,97.0a0.8,0.8 0 1,0 0.01,0zM325.3,106.2a0.8,0.8 0 1,0 0.01,0zM325.4,99.9a0.8,0.8 0 1,0 0.01,0zM321.8,101.8a0.8,0.8 0 1,0 0.01,0zM329.4,106.5a0.8,0.8 0 1,0 0.01,0zM319.0,100.1a0.8,0.8 0 1,0 0.01,0zM322.6,105.6a0.8,0.8 0 1,0 0.01,0zM324.7,106.7a0.8,0.8 0 1,0 0.01,0zM319.9,106.8a0.8,0.8 0 1,0 0.01,0zM332.9,100.1a0.8,0.8 0 1,0 0.01,0zM326.7,98.6a0.8,0.8 0 1,0 0.01,0zM328.1,99.0a0.8,0.8 0 1,0 0.01,0zM323.5,95.8a0.8,0.8 0 1,0 0.01,0zM321.7,106.6a0.8,0.8 0 1,0 0.01,0zM273.0,113.7a0.8,0.8 0 1,0 0.01,0zM267.4,112.9a0.8,0.8 0 1,0 0.01,0zM276.1,112.1a0.8,0.8 0 1,0 0.01,0zM275.9,107.5a0.8,0.8 0 1,0 0.01,0zM275.1,112.7a0.8,0.8 0 1,0 0.01,0zM266.8,114.3a0.8,0.8 0 1,0 0.01,0zM274.1,112.9a0.8,0.8 0 1,0 0.01,0zM277.6,109.1a0.8,0.8 0 1,0 0.01,0zM268.3,105.0a0.8,0.8 0 1,0 0.01,0zM299.5,115.0a0.8,0.8 0 1,0 0.01,0zM293.2,115.6a0.8,0.8 0 1,0 0.01,0zM302.2,121.2a0.8,0.8 0 1,0 0.01,0zM299.6,111.8a0.8,0.8 0 1,0 0.01,0zM295.3,117.3a0.8,0.8 0 1,0 0.01,0zM302.9,118.5a0.8,0.8 0 1,0 0.01,0zM291.9,118.2a0.8,0.8 0 1,0 0.01,0zM300.6,115.0a0.8,0.8 0 1,0 0.01,0zM300.4,112.7a0.8,0.8 0 1,0 0.01,0zM298.5,121.2a0.8,0.8 0 1,0 0.01,0zM305.1,119.0a0.8,0.8 0 1,0 0.01,0zM290.5,115.7a0.8,0.8 0 1,0 0.01,0zM329.9,123.3a0.8,0.8 0 1,0 0.01,0zM337.8,119.0a0.8,0.8 0 1,0 0.01,0zM329.3,123.2a0.8,0.8 0 1,0 0.01,0zM342.2,121.5a0.8,0.8 0 1,0 0.01,0zM339.3,122.5a0.8,0.8 0 1,0 0.01,0zM358.0,110.3a0.8,0.8 0 1,0 0.01,0zM354.4,109.9a0.8,0.8 0 1,0 0.01,0zM355.2,113.7a0.8,0.8 0 1,0 0.01,0zM355.2,109.9a0.8,0.8 0 1,0 0.01,0zM352.5,109.5a0.8,0.8 0 1,0 0.01,0z" fill="#d0a8f0" opacity="0.55"/>
<path d="M316.7,35.4a0.8,0.8 0 1,0 0.01,0zM318.2,25.3a0.8,0.8 0 1,0 0.01,0zM308.1,34.0a0.8,0.8 0 1,0 0.01,0zM315.2,35.8a0.8,0.8 0 1,0 0.01,0zM316.8,25.1a0.8,0.8 0 1,0 0.01,0zM309.2,32.8a0.8,0.8 0 1,0 0.01,0zM318.5,32.0a0.8,0.8 0 1,0 0.01,0zM315.6,24.4a0.8,0.8 0 1,0 0.01,0zM314.0,32.2a0.8,0.8 0 1,0 0.01,0zM314.2,24.8a0.8,0.8 0 1,0 0.01,0zM332.8,46.2a0.8,0.8 0 1,0 0.01,0zM332.4,35.4a0.8,0.8 0 1,0 0.01,0zM335.6,47.9a0.8,0.8 0 1,0 0.01,0zM344.2,43.3a0.8,0.8 0 1,0 0.01,0zM336.0,35.4a0.8,0.8 0 1,0 0.01,0zM334.5,32.5a0.8,0.8 0 1,0 0.01,0zM330.4,38.6a0.8,0.8 0 1,0 0.01,0zM344.5,32.2a0.8,0.8 0 1,0 0.01,0zM341.0,34.4a0.8,0.8 0 1,0 0.01,0zM334.2,33.5a0.8,0.8 0 1,0 0.01,0zM338.4,44.5a0.8,0.8 0 1,0 0.01,0zM335.8,48.1a0.8,0.8 0 1,0 0.01,0zM336.1,35.8a0.8,0.8 0 1,0 0.01,0zM336.8,38.6a0.8,0.8 0 1,0 0.01,0zM338.6,28.1a0.8,0.8 0 1,0 0.01,0zM339.7,44.7a0.8,0.8 0 1,0 0.01,0zM339.7,46.1a0.8,0.8 0 1,0 0.01,0zM334.7,29.7a0.8,0.8 0 1,0 0.01,0zM332.3,34.5a0.8,0.8 0 1,0 0.01,0zM339.7,34.8a0.8,0.8 0 1,0 0.01,0zM335.3,44.7a0.8,0.8 0 1,0 0.01,0zM356.6,31.1a0.8,0.8 0 1,0 0.01,0zM358.5,33.2a0.8,0.8 0 1,0 0.01,0zM282.1,41.9a0.8,0.8 0 1,0 0.01,0zM289.4,41.0a0.8,0.8 0 1,0 0.01,0zM286.3,38.5a0.8,0.8 0 1,0 0.01,0zM291.2,48.8a0.8,0.8 0 1,0 0.01,0zM291.5,42.0a0.8,0.8 0 1,0 0.01,0zM284.3,37.8a0.8,0.8 0 1,0 0.01,0zM278.8,43.2a0.8,0.8 0 1,0 0.01,0zM280.8,51.1a0.8,0.8 0 1,0 0.01,0zM288.5,55.2a0.8,0.8 0 1,0 0.01,0zM288.4,47.3a0.8,0.8 0 1,0 0.01,0zM275.1,48.1a0.8,0.8 0 1,0 0.01,0zM288.9,42.2a0.8,0.8 0 1,0 0.01,0zM295.7,51.5a0.8,0.8 0 1,0 0.01,0zM286.4,37.7a0.8,0.8 0 1,0 0.01,0zM282.3,37.5a0.8,0.8 0 1,0 0.01,0zM293.3,39.5a0.8,0.8 0 1,0 0.01,0zM290.6,48.4a0.8,0.8 0 1,0 0.01,0zM320.0,65.0a0.8,0.8 0 1,0 0.01,0zM316.8,57.3a0.8,0.8 0 1,0 0.01,0zM309.6,57.8a0.8,0.8 0 1,0 0.01,0zM316.2,53.9a0.8,0.8 0 1,0 0.01,0zM326.7,59.9a0.8,0.8 0 1,0 0.01,0zM321.8,65.3a0.8,0.8 0 1,0 0.01,0zM313.9,53.6a0.8,0.8 0 1,0 0.01,0zM322.5,62.0a0.8,0.8 0 1,0 0.01,0zM307.7,58.8a0.8,0.8 0 1,0 0.01,0zM316.4,57.2a0.8,0.8 0 1,0 0.01,0zM307.2,64.5a0.8,0.8 0 1,0 0.01,0zM308.9,56.4a0.8,0.8 0 1,0 0.01,0zM304.7,58.5a0.8,0.8 0 1,0 0.01,0zM312.3,64.2a0.8,0.8 0 1,0 0.01,0zM323.3,54.8a0.8,0.8 0 1,0 0.01,0zM305.6,56.8a0.8,0.8 0 1,0 0.01,0zM309.2,59.7a0.8,0.8 0 1,0 0.01,0zM268.2,67.6a0.8,0.8 0 1,0 0.01,0zM263.4,82.5a0.8,0.8 0 1,0 0.01,0zM264.0,71.7a0.8,0.8 0 1,0 0.01,0zM264.8,75.6a0.8,0.8 0 1,0 0.01,0zM267.9,81.2a0.8,0.8 0 1,0 0.01,0zM272.1,84.5a0.8,0.8 0 1,0 0.01,0zM275.4,75.8a0.8,0.8 0 1,0 0.01,0zM268.1,81.9a0.8,0.8 0 1,0 0.01,0zM270.2,74.5a0.8,0.8 0 1,0 0.01,0zM265.3,75.8a0.8,0.8 0 1,0 0.01,0zM264.9,68.3a0.8,0.8 0 1,0 0.01,0zM264.2,70.7a0.8,0.8 0 1,0 0.01,0zM275.5,72.4a0.8,0.8 0 1,0 0.01,0zM262.5,71.1a0.8,0.8 0 1,0 0.01,0zM275.5,76.7a0.8,0.8 0 1,0 0.01,0zM265.5,80.1a0.8,0.8 0 1,0 0.01,0zM304.7,80.5a0.8,0.8 0 1,0 0.01,0zM295.9,83.0a0.8,0.8 0 1,0 0.01,0zM302.8,78.9a0.8,0.8 0 1,0 0.01,0zM293.6,86.1a0.8,0.8 0 1,0 0.01,0zM303.8,81.7a0.8,0.8 0 1,0 0.01,0zM297.1,92.0a0.8,0.8 0 1,0 0.01,0zM302.5,82.6a0.8,0.8 0 1,0 0.01,0zM303.7,85.8a0.8,0.8 0 1,0 0.01,0zM298.2,85.1a0.8,0.8 0 1,0 0.01,0zM292.1,78.3a0.8,0.8 0 1,0 0.01,0zM295.5,85.9a0.8,0.8 0 1,0 0.01,0zM330.5,84.4a0.8,0.8 0 1,0 0.01,0zM331.2,70.7a0.8,0.8 0 1,0 0.01,0zM340.0,83.2a0.8,0.8 0 1,0 0.01,0zM333.6,78.1a0.8,0.8 0 1,0 0.01,0zM336.5,77.3a0.8,0.8 0 1,0 0.01,0zM336.5,75.0a0.8,0.8 0 1,0 0.01,0zM340.1,74.3a0.8,0.8 0 1,0 0.01,0zM329.0,79.2a0.8,0.8 0 1,0 0.01,0zM342.5,83.4a0.8,0.8 0 1,0 0.01,0zM335.3,69.0a0.8,0.8 0 1,0 0.01,0zM334.5,81.2a0.8,0.8 0 1,0 0.01,0zM325.3,78.1a0.8,0.8 0 1,0 0.01,0zM342.6,78.2a0.8,0.8 0 1,0 0.01,0zM333.0,69.9a0.8,0.8 0 1,0 0.01,0zM343.9,83.6a0.8,0.8 0 1,0 0.01,0zM346.2,78.8a0.8,0.8 0 1,0 0.01,0zM336.8,77.6a0.8,0.8 0 1,0 0.01,0zM341.3,71.9a0.8,0.8 0 1,0 0.01,0zM333.0,80.0a0.8,0.8 0 1,0 0.01,0zM342.7,82.4a0.8,0.8 0 1,0 0.01,0zM343.3,83.3a0.8,0.8 0 1,0 0.01,0zM345.5,77.9a0.8,0.8 0 1,0 0.01,0zM332.2,70.7a0.8,0.8 0 1,0 0.01,0zM335.9,74.3a0.8,0.8 0 1,0 0.01,0zM333.1,71.0a0.8,0.8 0 1,0 0.01,0zM329.6,74.1a0.8,0.8 0 1,0 0.01,0zM343.4,77.5a0.8,0.8 0 1,0 0.01,0zM360.8,80.6a0.8,0.8 0 1,0 0.01,0zM360.0,79.7a0.8,0.8 0 1,0 0.01,0zM361.1,80.2a0.8,0.8 0 1,0 0.01,0zM320.7,98.8a0.8,0.8 0 1,0 0.01,0zM316.0,106.3a0.8,0.8 0 1,0 0.01,0zM321.8,103.5a0.8,0.8 0 1,0 0.01,0zM318.1,99.8a0.8,0.8 0 1,0 0.01,0zM318.7,98.6a0.8,0.8 0 1,0 0.01,0zM327.4,96.9a0.8,0.8 0 1,0 0.01,0zM319.5,100.9a0.8,0.8 0 1,0 0.01,0zM326.0,97.1a0.8,0.8 0 1,0 0.01,0zM324.7,100.9a0.8,0.8 0 1,0 0.01,0zM336.7,105.2a0.8,0.8 0 1,0 0.01,0zM322.7,107.5a0.8,0.8 0 1,0 0.01,0zM318.2,99.9a0.8,0.8 0 1,0 0.01,0zM326.2,108.7a0.8,0.8 0 1,0 0.01,0zM333.0,97.2a0.8,0.8 0 1,0 0.01,0zM264.2,108.2a0.8,0.8 0 1,0 0.01,0zM264.0,112.8a0.8,0.8 0 1,0 0.01,0zM272.5,110.8a0.8,0.8 0 1,0 0.01,0zM265.6,109.2a0.8,0.8 0 1,0 0.01,0zM274.4,108.5a0.8,0.8 0 1,0 0.01,0zM300.3,113.6a0.8,0.8 0 1,0 0.01,0zM295.0,114.5a0.8,0.8 0 1,0 0.01,0zM307.0,116.0a0.8,0.8 0 1,0 0.01,0zM302.1,119.4a0.8,0.8 0 1,0 0.01,0zM306.1,114.8a0.8,0.8 0 1,0 0.01,0zM295.4,113.8a0.8,0.8 0 1,0 0.01,0zM302.8,117.7a0.8,0.8 0 1,0 0.01,0zM334.0,123.3a0.8,0.8 0 1,0 0.01,0zM331.5,120.7a0.8,0.8 0 1,0 0.01,0zM334.8,122.3a0.8,0.8 0 1,0 0.01,0zM328.5,122.5a0.8,0.8 0 1,0 0.01,0zM359.2,107.9a0.8,0.8 0 1,0 0.01,0zM355.9,104.4a0.8,0.8 0 1,0 0.01,0zM352.1,106.4a0.8,0.8 0 1,0 0.01,0zM353.7,112.8a0.8,0.8 0 1,0 0.01,0zM356.8,113.3a0.8,0.8 0 1,0 0.01,0zM355.0,108.9a0.8,0.8 0 1,0 0.01,0z" fill="#7040d8" opacity="0.55"/>
<path d="M346.9,50.4C349.0,48.1 359.4,45.8 361.9,48.1C364.4,50.4 364.0,61.9 361.9,64.2C359.8,66.5 351.7,64.2 349.2,61.9C346.7,59.6 344.8,52.7 346.9,50.4Z" fill="#dcc4ec" opacity="0.7" filter="url(#bl2)"/>
</g></g>
<g clip-path="url(#c24)"><g filter="url(#bl)">
<rect x="378" y="18" width="108" height="106" fill="#f4f8ff"/>
<path d="M376.9,16.9L404.6,16.9L404.6,33.1L397.7,41.2L383.8,40.0L376.9,35.4Z" fill="#3434e4" stroke="#3434e4" stroke-width="2.2" stroke-linejoin="round"/>
<path d="M410.4,16.9L436.9,16.9L436.9,33.1L430.0,40.0L416.2,40.0L410.4,30.8Z" fill="#3434e4" stroke="#3434e4" stroke-width="2.2" stroke-linejoin="round"/>
<path d="M439.2,16.9L464.6,16.9L463.5,31.9L453.1,37.7L442.7,35.4L439.2,26.2Z" fill="#3434e4" stroke="#3434e4" stroke-width="2.2" stroke-linejoin="round"/>
<path d="M468.1,16.9L487.7,16.9L487.7,45.8L473.9,44.6L468.1,33.1Z" fill="#3434e4" stroke="#3434e4" stroke-width="2.2" stroke-linejoin="round"/>
<path d="M376.9,48.1L390.8,46.9L395.4,58.5L393.1,68.9L376.9,70.0Z" fill="#3434e4" stroke="#3434e4" stroke-width="2.2" stroke-linejoin="round"/>
<path d="M398.8,44.6L410.4,41.2L418.5,46.9L419.6,60.8L411.5,68.9L401.2,66.5L397.7,56.2Z" fill="#3434e4" stroke="#3434e4" stroke-width="2.2" stroke-linejoin="round"/>
<path d="M424.2,44.6L436.9,40.0L443.9,49.2L441.5,58.5L430.0,60.3L423.5,53.8Z" fill="#3434e4" stroke="#3434e4" stroke-width="2.2" stroke-linejoin="round"/>
<path d="M446.2,48.1L457.7,42.3L469.2,46.9L471.5,58.5L462.3,65.4L450.8,64.2L445.0,56.2Z" fill="#3434e4" stroke="#3434e4" stroke-width="2.2" stroke-linejoin="round"/>
<path d="M473.9,56.2L487.7,52.7L487.7,79.2L478.5,76.9L473.9,67.7Z" fill="#3434e4" stroke="#3434e4" stroke-width="2.2" stroke-linejoin="round"/>
<path d="M376.9,74.6L393.1,73.5L396.5,83.9L391.9,93.1L376.9,93.1Z" fill="#3434e4" stroke="#3434e4" stroke-width="2.2" stroke-linejoin="round"/>
<path d="M453.1,75.8L464.6,68.9L475.0,73.5L477.3,86.2L466.9,94.2L455.4,90.8Z" fill="#3434e4" stroke="#3434e4" stroke-width="2.2" stroke-linejoin="round"/>
<path d="M404.6,93.1L416.2,88.5L427.7,91.9L431.2,104.6L423.1,115.0L409.2,113.9L403.5,102.3Z" fill="#3434e4" stroke="#3434e4" stroke-width="2.2" stroke-linejoin="round"/>
<path d="M434.6,95.4L446.2,88.5L456.5,93.1L458.9,106.9L450.8,116.2L438.1,113.9L433.5,104.6Z" fill="#3434e4" stroke="#3434e4" stroke-width="2.2" stroke-linejoin="round"/>
<path d="M376.9,100.0L390.8,97.2L400.0,102.3L401.2,116.2L393.1,124.2L376.9,124.2Z" fill="#3434e4" stroke="#3434e4" stroke-width="2.2" stroke-linejoin="round"/>
<path d="M471.5,93.1L487.7,87.3L487.7,116.2L473.9,115.0L469.2,104.6Z" fill="#3434e4" stroke="#3434e4" stroke-width="2.2" stroke-linejoin="round"/>
<path d="M418.5,118.5L430.0,115.0L438.1,124.2L418.5,124.2Z" fill="#3434e4" stroke="#3434e4" stroke-width="2.2" stroke-linejoin="round"/>
<path d="M443.9,116.2L455.4,112.7L463.5,118.5L463.5,124.2L443.9,124.2Z" fill="#3434e4" stroke="#3434e4" stroke-width="2.2" stroke-linejoin="round"/>
<path d="M472.7,119.6L487.7,116.2L487.7,124.2L472.7,124.2Z" fill="#3434e4" stroke="#3434e4" stroke-width="2.2" stroke-linejoin="round"/>
<path d="M381.6,21.8L401.0,21.8L401.0,33.1L396.1,38.8L386.4,38.0L381.6,34.7Z" fill="#7466e0" filter="url(#bl2)"/>
<path d="M414.8,21.5L433.4,21.5L433.4,32.8L428.5,37.7L418.8,37.7L414.8,31.2Z" fill="#7466e0" filter="url(#bl2)"/>
<path d="M443.1,20.9L460.9,20.9L460.0,31.4L452.8,35.4L445.5,33.8L443.1,27.4Z" fill="#7466e0" filter="url(#bl2)"/>
<path d="M471.3,22.1L485.0,22.1L485.0,42.3L475.3,41.5L471.3,33.4Z" fill="#7466e0" filter="url(#bl2)"/>
<path d="M380.3,52.0L390.0,51.2L393.3,59.3L391.6,66.5L380.3,67.3Z" fill="#7466e0" filter="url(#bl2)"/>
<path d="M402.2,48.5L410.2,46.1L415.9,50.1L416.7,59.8L411.1,65.5L403.8,63.9L401.4,56.6Z" fill="#7466e0" filter="url(#bl2)"/>
<path d="M427.5,47.4L436.4,44.1L441.2,50.6L439.6,57.0L431.5,58.3L427.0,53.8Z" fill="#7466e0" filter="url(#bl2)"/>
<path d="M450.1,50.8L458.1,46.8L466.2,50.0L467.8,58.1L461.4,62.9L453.3,62.1L449.3,56.5Z" fill="#7466e0" filter="url(#bl2)"/>
<path d="M476.3,60.1L486.0,57.6L486.0,76.2L479.5,74.6L476.3,68.2Z" fill="#7466e0" filter="url(#bl2)"/>
<path d="M380.5,78.1L391.8,77.3L394.2,84.6L391.0,91.0L380.5,91.0Z" fill="#7466e0" filter="url(#bl2)"/>
<path d="M457.3,78.3L465.4,73.5L472.6,76.7L474.2,85.6L467.0,91.2L458.9,88.8Z" fill="#7466e0" filter="url(#bl2)"/>
<path d="M408.7,96.4L416.8,93.1L424.8,95.5L427.3,104.4L421.6,111.7L411.9,110.9L407.9,102.8Z" fill="#7466e0" filter="url(#bl2)"/>
<path d="M438.4,98.4L446.5,93.5L453.7,96.8L455.3,106.4L449.7,112.9L440.8,111.3L437.6,104.8Z" fill="#7466e0" filter="url(#bl2)"/>
<path d="M381.3,104.0L391.0,102.1L397.4,105.6L398.3,115.3L392.6,121.0L381.3,121.0Z" fill="#7466e0" filter="url(#bl2)"/>
<path d="M474.0,96.9L485.3,92.9L485.3,113.1L475.6,112.3L472.4,105.0Z" fill="#7466e0" filter="url(#bl2)"/>
<path d="M421.3,119.9L429.4,117.5L435.0,123.9L421.3,123.9Z" fill="#7466e0" filter="url(#bl2)"/>
<path d="M447.4,117.9L455.5,115.4L461.1,119.5L461.1,123.5L447.4,123.5Z" fill="#7466e0" filter="url(#bl2)"/>
<path d="M475.5,120.9L486.0,118.4L486.0,124.1L475.5,124.1Z" fill="#7466e0" filter="url(#bl2)"/>
<path d="M394.0,27.4a0.8,0.8 0 1,0 0.01,0zM392.2,37.0a0.8,0.8 0 1,0 0.01,0zM385.1,31.3a0.8,0.8 0 1,0 0.01,0zM392.5,35.9a0.8,0.8 0 1,0 0.01,0zM389.8,31.1a0.8,0.8 0 1,0 0.01,0zM387.4,28.0a0.8,0.8 0 1,0 0.01,0zM385.1,34.1a0.8,0.8 0 1,0 0.01,0zM430.8,30.5a0.8,0.8 0 1,0 0.01,0zM425.7,34.9a0.8,0.8 0 1,0 0.01,0zM422.1,26.9a0.8,0.8 0 1,0 0.01,0zM424.7,30.9a0.8,0.8 0 1,0 0.01,0zM418.6,27.5a0.8,0.8 0 1,0 0.01,0zM420.4,30.1a0.8,0.8 0 1,0 0.01,0zM421.0,28.7a0.8,0.8 0 1,0 0.01,0zM448.6,25.2a0.8,0.8 0 1,0 0.01,0zM447.9,27.4a0.8,0.8 0 1,0 0.01,0zM453.5,28.0a0.8,0.8 0 1,0 0.01,0zM447.6,30.7a0.8,0.8 0 1,0 0.01,0zM450.0,32.3a0.8,0.8 0 1,0 0.01,0zM445.6,27.0a0.8,0.8 0 1,0 0.01,0zM455.7,29.4a0.8,0.8 0 1,0 0.01,0zM480.0,32.3a0.8,0.8 0 1,0 0.01,0zM477.1,31.3a0.8,0.8 0 1,0 0.01,0zM480.4,31.0a0.8,0.8 0 1,0 0.01,0zM480.5,34.1a0.8,0.8 0 1,0 0.01,0zM477.5,32.7a0.8,0.8 0 1,0 0.01,0zM476.0,36.2a0.8,0.8 0 1,0 0.01,0zM480.4,33.3a0.8,0.8 0 1,0 0.01,0zM473.9,36.1a0.8,0.8 0 1,0 0.01,0zM477.6,31.7a0.8,0.8 0 1,0 0.01,0zM385.4,59.2a0.8,0.8 0 1,0 0.01,0zM390.4,55.4a0.8,0.8 0 1,0 0.01,0zM384.6,60.6a0.8,0.8 0 1,0 0.01,0zM391.0,57.8a0.8,0.8 0 1,0 0.01,0zM383.6,57.4a0.8,0.8 0 1,0 0.01,0zM382.6,60.7a0.8,0.8 0 1,0 0.01,0zM390.7,57.1a0.8,0.8 0 1,0 0.01,0zM389.3,59.0a0.8,0.8 0 1,0 0.01,0zM407.3,54.9a0.8,0.8 0 1,0 0.01,0zM412.2,61.7a0.8,0.8 0 1,0 0.01,0zM406.9,51.3a0.8,0.8 0 1,0 0.01,0zM403.6,54.5a0.8,0.8 0 1,0 0.01,0zM407.0,58.3a0.8,0.8 0 1,0 0.01,0zM411.2,55.4a0.8,0.8 0 1,0 0.01,0zM406.7,53.8a0.8,0.8 0 1,0 0.01,0zM411.7,50.7a0.8,0.8 0 1,0 0.01,0zM406.8,49.4a0.8,0.8 0 1,0 0.01,0zM411.8,56.9a0.8,0.8 0 1,0 0.01,0zM411.2,61.7a0.8,0.8 0 1,0 0.01,0zM411.1,55.6a0.8,0.8 0 1,0 0.01,0zM409.5,59.5a0.8,0.8 0 1,0 0.01,0zM428.7,50.8a0.8,0.8 0 1,0 0.01,0zM438.0,49.3a0.8,0.8 0 1,0 0.01,0zM435.5,51.9a0.8,0.8 0 1,0 0.01,0zM432.8,56.4a0.8,0.8 0 1,0 0.01,0zM430.6,50.7a0.8,0.8 0 1,0 0.01,0zM438.5,51.0a0.8,0.8 0 1,0 0.01,0zM432.2,48.9a0.8,0.8 0 1,0 0.01,0zM429.7,50.0a0.8,0.8 0 1,0 0.01,0zM436.1,50.1a0.8,0.8 0 1,0 0.01,0zM436.5,54.1a0.8,0.8 0 1,0 0.01,0zM437.8,54.4a0.8,0.8 0 1,0 0.01,0zM433.6,51.9a0.8,0.8 0 1,0 0.01,0zM453.7,51.3a0.8,0.8 0 1,0 0.01,0zM457.6,57.4a0.8,0.8 0 1,0 0.01,0zM453.7,55.2a0.8,0.8 0 1,0 0.01,0zM453.5,52.9a0.8,0.8 0 1,0 0.01,0zM457.4,58.4a0.8,0.8 0 1,0 0.01,0zM462.9,55.4a0.8,0.8 0 1,0 0.01,0zM458.8,51.3a0.8,0.8 0 1,0 0.01,0zM459.8,49.7a0.8,0.8 0 1,0 0.01,0zM451.5,55.0a0.8,0.8 0 1,0 0.01,0zM477.7,66.5a0.8,0.8 0 1,0 0.01,0zM479.1,63.3a0.8,0.8 0 1,0 0.01,0zM478.9,70.4a0.8,0.8 0 1,0 0.01,0zM481.6,67.3a0.8,0.8 0 1,0 0.01,0zM387.8,84.4a0.8,0.8 0 1,0 0.01,0zM386.4,82.8a0.8,0.8 0 1,0 0.01,0zM388.2,85.5a0.8,0.8 0 1,0 0.01,0zM383.9,81.9a0.8,0.8 0 1,0 0.01,0zM384.4,86.0a0.8,0.8 0 1,0 0.01,0zM385.7,89.3a0.8,0.8 0 1,0 0.01,0zM383.2,82.9a0.8,0.8 0 1,0 0.01,0zM465.0,76.8a0.8,0.8 0 1,0 0.01,0zM469.8,84.7a0.8,0.8 0 1,0 0.01,0zM471.4,82.7a0.8,0.8 0 1,0 0.01,0zM466.9,78.2a0.8,0.8 0 1,0 0.01,0zM462.5,79.8a0.8,0.8 0 1,0 0.01,0zM465.3,79.3a0.8,0.8 0 1,0 0.01,0zM466.8,83.2a0.8,0.8 0 1,0 0.01,0zM470.0,77.8a0.8,0.8 0 1,0 0.01,0zM470.5,83.4a0.8,0.8 0 1,0 0.01,0zM466.1,78.7a0.8,0.8 0 1,0 0.01,0zM463.7,76.1a0.8,0.8 0 1,0 0.01,0zM423.3,103.4a0.8,0.8 0 1,0 0.01,0zM414.0,108.2a0.8,0.8 0 1,0 0.01,0zM421.3,105.0a0.8,0.8 0 1,0 0.01,0zM417.1,103.7a0.8,0.8 0 1,0 0.01,0zM423.2,101.4a0.8,0.8 0 1,0 0.01,0zM411.8,106.6a0.8,0.8 0 1,0 0.01,0zM411.2,105.1a0.8,0.8 0 1,0 0.01,0zM412.2,105.4a0.8,0.8 0 1,0 0.01,0zM413.5,98.3a0.8,0.8 0 1,0 0.01,0zM417.8,100.7a0.8,0.8 0 1,0 0.01,0zM420.1,104.2a0.8,0.8 0 1,0 0.01,0zM422.0,98.1a0.8,0.8 0 1,0 0.01,0zM414.2,107.6a0.8,0.8 0 1,0 0.01,0zM446.8,98.9a0.8,0.8 0 1,0 0.01,0zM439.5,103.2a0.8,0.8 0 1,0 0.01,0zM450.8,105.1a0.8,0.8 0 1,0 0.01,0zM442.4,109.5a0.8,0.8 0 1,0 0.01,0zM440.3,107.2a0.8,0.8 0 1,0 0.01,0zM452.5,103.6a0.8,0.8 0 1,0 0.01,0zM447.3,102.0a0.8,0.8 0 1,0 0.01,0zM445.7,96.2a0.8,0.8 0 1,0 0.01,0zM448.6,97.5a0.8,0.8 0 1,0 0.01,0zM444.1,97.7a0.8,0.8 0 1,0 0.01,0zM386.7,110.3a0.8,0.8 0 1,0 0.01,0zM386.7,115.7a0.8,0.8 0 1,0 0.01,0zM391.1,114.7a0.8,0.8 0 1,0 0.01,0zM394.1,112.5a0.8,0.8 0 1,0 0.01,0zM389.4,115.9a0.8,0.8 0 1,0 0.01,0zM391.1,105.1a0.8,0.8 0 1,0 0.01,0zM395.9,108.9a0.8,0.8 0 1,0 0.01,0zM390.1,105.7a0.8,0.8 0 1,0 0.01,0zM390.6,112.1a0.8,0.8 0 1,0 0.01,0zM385.4,108.2a0.8,0.8 0 1,0 0.01,0zM479.1,109.5a0.8,0.8 0 1,0 0.01,0zM475.5,106.2a0.8,0.8 0 1,0 0.01,0zM477.4,104.7a0.8,0.8 0 1,0 0.01,0zM477.0,111.1a0.8,0.8 0 1,0 0.01,0zM476.2,100.4a0.8,0.8 0 1,0 0.01,0zM480.6,97.3a0.8,0.8 0 1,0 0.01,0zM477.0,109.1a0.8,0.8 0 1,0 0.01,0zM476.8,106.0a0.8,0.8 0 1,0 0.01,0zM476.8,109.4a0.8,0.8 0 1,0 0.01,0zM478.3,108.6a0.8,0.8 0 1,0 0.01,0zM479.4,98.5a0.8,0.8 0 1,0 0.01,0zM421.9,121.9a0.8,0.8 0 1,0 0.01,0zM426.8,123.1a0.8,0.8 0 1,0 0.01,0zM428.7,122.7a0.8,0.8 0 1,0 0.01,0zM458.0,118.1a0.8,0.8 0 1,0 0.01,0zM458.6,120.2a0.8,0.8 0 1,0 0.01,0zM453.6,117.5a0.8,0.8 0 1,0 0.01,0zM456.7,122.7a0.8,0.8 0 1,0 0.01,0zM454.5,121.2a0.8,0.8 0 1,0 0.01,0zM481.1,120.2a0.8,0.8 0 1,0 0.01,0zM476.9,121.2a0.8,0.8 0 1,0 0.01,0z" fill="#3c3ce0" opacity="0.55"/>
<path d="M390.6,27.1a0.8,0.8 0 1,0 0.01,0zM391.7,27.7a0.8,0.8 0 1,0 0.01,0zM391.9,25.1a0.8,0.8 0 1,0 0.01,0zM385.7,28.2a0.8,0.8 0 1,0 0.01,0zM387.0,35.1a0.8,0.8 0 1,0 0.01,0zM387.9,30.2a0.8,0.8 0 1,0 0.01,0zM391.1,26.6a0.8,0.8 0 1,0 0.01,0zM386.8,32.4a0.8,0.8 0 1,0 0.01,0zM385.9,34.8a0.8,0.8 0 1,0 0.01,0zM395.7,36.5a0.8,0.8 0 1,0 0.01,0zM392.5,35.7a0.8,0.8 0 1,0 0.01,0zM391.7,27.5a0.8,0.8 0 1,0 0.01,0zM385.9,35.5a0.8,0.8 0 1,0 0.01,0zM397.3,30.7a0.8,0.8 0 1,0 0.01,0zM387.7,33.9a0.8,0.8 0 1,0 0.01,0zM395.7,30.4a0.8,0.8 0 1,0 0.01,0zM427.8,28.8a0.8,0.8 0 1,0 0.01,0zM421.0,31.1a0.8,0.8 0 1,0 0.01,0zM420.6,31.4a0.8,0.8 0 1,0 0.01,0zM422.3,34.6a0.8,0.8 0 1,0 0.01,0zM419.7,27.5a0.8,0.8 0 1,0 0.01,0zM422.2,35.6a0.8,0.8 0 1,0 0.01,0zM428.9,31.3a0.8,0.8 0 1,0 0.01,0zM424.9,32.7a0.8,0.8 0 1,0 0.01,0zM417.1,31.1a0.8,0.8 0 1,0 0.01,0zM420.8,30.6a0.8,0.8 0 1,0 0.01,0zM426.0,33.0a0.8,0.8 0 1,0 0.01,0zM424.6,26.9a0.8,0.8 0 1,0 0.01,0zM429.8,31.3a0.8,0.8 0 1,0 0.01,0zM425.8,32.8a0.8,0.8 0 1,0 0.01,0zM451.5,30.0a0.8,0.8 0 1,0 0.01,0zM449.2,31.3a0.8,0.8 0 1,0 0.01,0zM450.5,30.7a0.8,0.8 0 1,0 0.01,0zM454.6,28.0a0.8,0.8 0 1,0 0.01,0zM444.9,27.4a0.8,0.8 0 1,0 0.01,0zM449.6,23.9a0.8,0.8 0 1,0 0.01,0zM447.8,25.8a0.8,0.8 0 1,0 0.01,0zM445.3,30.3a0.8,0.8 0 1,0 0.01,0zM454.6,29.6a0.8,0.8 0 1,0 0.01,0zM452.8,26.5a0.8,0.8 0 1,0 0.01,0zM444.9,27.9a0.8,0.8 0 1,0 0.01,0zM480.1,29.7a0.8,0.8 0 1,0 0.01,0zM473.9,35.7a0.8,0.8 0 1,0 0.01,0zM480.2,33.3a0.8,0.8 0 1,0 0.01,0zM472.8,35.4a0.8,0.8 0 1,0 0.01,0zM479.1,38.6a0.8,0.8 0 1,0 0.01,0zM477.9,34.6a0.8,0.8 0 1,0 0.01,0zM479.6,26.5a0.8,0.8 0 1,0 0.01,0zM473.6,33.3a0.8,0.8 0 1,0 0.01,0zM473.1,34.1a0.8,0.8 0 1,0 0.01,0zM477.6,36.0a0.8,0.8 0 1,0 0.01,0zM386.5,63.5a0.8,0.8 0 1,0 0.01,0zM384.5,59.9a0.8,0.8 0 1,0 0.01,0zM388.5,57.5a0.8,0.8 0 1,0 0.01,0zM387.0,58.6a0.8,0.8 0 1,0 0.01,0zM386.7,55.8a0.8,0.8 0 1,0 0.01,0zM385.2,61.7a0.8,0.8 0 1,0 0.01,0zM410.1,56.4a0.8,0.8 0 1,0 0.01,0zM406.7,60.7a0.8,0.8 0 1,0 0.01,0zM413.8,57.5a0.8,0.8 0 1,0 0.01,0zM405.5,56.2a0.8,0.8 0 1,0 0.01,0zM404.4,54.5a0.8,0.8 0 1,0 0.01,0zM403.9,58.8a0.8,0.8 0 1,0 0.01,0zM412.4,54.2a0.8,0.8 0 1,0 0.01,0zM404.1,54.5a0.8,0.8 0 1,0 0.01,0zM435.1,48.8a0.8,0.8 0 1,0 0.01,0zM432.2,54.1a0.8,0.8 0 1,0 0.01,0zM455.4,56.5a0.8,0.8 0 1,0 0.01,0zM454.2,55.3a0.8,0.8 0 1,0 0.01,0zM460.5,57.4a0.8,0.8 0 1,0 0.01,0zM457.8,54.0a0.8,0.8 0 1,0 0.01,0zM463.5,54.2a0.8,0.8 0 1,0 0.01,0zM456.3,55.8a0.8,0.8 0 1,0 0.01,0zM453.8,52.5a0.8,0.8 0 1,0 0.01,0zM456.2,58.4a0.8,0.8 0 1,0 0.01,0zM451.9,55.5a0.8,0.8 0 1,0 0.01,0zM452.2,52.5a0.8,0.8 0 1,0 0.01,0zM451.1,55.9a0.8,0.8 0 1,0 0.01,0zM457.3,51.2a0.8,0.8 0 1,0 0.01,0zM480.5,71.6a0.8,0.8 0 1,0 0.01,0zM482.9,65.0a0.8,0.8 0 1,0 0.01,0zM484.1,68.4a0.8,0.8 0 1,0 0.01,0zM478.5,62.8a0.8,0.8 0 1,0 0.01,0zM483.4,71.9a0.8,0.8 0 1,0 0.01,0zM482.1,63.3a0.8,0.8 0 1,0 0.01,0zM481.8,66.2a0.8,0.8 0 1,0 0.01,0zM483.8,65.4a0.8,0.8 0 1,0 0.01,0zM389.5,88.2a0.8,0.8 0 1,0 0.01,0zM387.8,79.4a0.8,0.8 0 1,0 0.01,0zM388.2,83.6a0.8,0.8 0 1,0 0.01,0zM388.7,79.3a0.8,0.8 0 1,0 0.01,0zM390.9,81.2a0.8,0.8 0 1,0 0.01,0zM390.8,85.2a0.8,0.8 0 1,0 0.01,0zM462.5,86.1a0.8,0.8 0 1,0 0.01,0zM464.7,82.6a0.8,0.8 0 1,0 0.01,0zM466.4,88.5a0.8,0.8 0 1,0 0.01,0zM468.2,82.2a0.8,0.8 0 1,0 0.01,0zM466.1,77.0a0.8,0.8 0 1,0 0.01,0zM471.8,80.5a0.8,0.8 0 1,0 0.01,0zM465.9,83.6a0.8,0.8 0 1,0 0.01,0zM463.2,83.6a0.8,0.8 0 1,0 0.01,0zM464.9,83.7a0.8,0.8 0 1,0 0.01,0zM467.5,84.0a0.8,0.8 0 1,0 0.01,0zM413.5,102.2a0.8,0.8 0 1,0 0.01,0zM420.6,108.0a0.8,0.8 0 1,0 0.01,0zM410.3,105.0a0.8,0.8 0 1,0 0.01,0zM412.9,105.9a0.8,0.8 0 1,0 0.01,0zM417.3,95.0a0.8,0.8 0 1,0 0.01,0zM414.2,99.1a0.8,0.8 0 1,0 0.01,0zM420.1,97.9a0.8,0.8 0 1,0 0.01,0zM415.0,101.6a0.8,0.8 0 1,0 0.01,0zM412.7,97.1a0.8,0.8 0 1,0 0.01,0zM412.1,103.2a0.8,0.8 0 1,0 0.01,0zM421.6,103.5a0.8,0.8 0 1,0 0.01,0zM415.1,103.6a0.8,0.8 0 1,0 0.01,0zM439.9,106.4a0.8,0.8 0 1,0 0.01,0zM449.9,99.8a0.8,0.8 0 1,0 0.01,0zM448.1,101.4a0.8,0.8 0 1,0 0.01,0zM444.5,105.5a0.8,0.8 0 1,0 0.01,0zM442.9,107.0a0.8,0.8 0 1,0 0.01,0zM442.0,97.5a0.8,0.8 0 1,0 0.01,0zM449.4,97.9a0.8,0.8 0 1,0 0.01,0zM448.1,108.5a0.8,0.8 0 1,0 0.01,0zM448.9,108.6a0.8,0.8 0 1,0 0.01,0zM443.2,109.8a0.8,0.8 0 1,0 0.01,0zM449.5,106.5a0.8,0.8 0 1,0 0.01,0zM449.5,109.2a0.8,0.8 0 1,0 0.01,0zM448.0,102.7a0.8,0.8 0 1,0 0.01,0zM445.4,98.3a0.8,0.8 0 1,0 0.01,0zM387.8,111.2a0.8,0.8 0 1,0 0.01,0zM394.7,108.3a0.8,0.8 0 1,0 0.01,0zM391.2,117.9a0.8,0.8 0 1,0 0.01,0zM394.5,115.4a0.8,0.8 0 1,0 0.01,0zM385.0,109.0a0.8,0.8 0 1,0 0.01,0zM389.3,108.4a0.8,0.8 0 1,0 0.01,0zM395.3,109.0a0.8,0.8 0 1,0 0.01,0zM392.4,112.3a0.8,0.8 0 1,0 0.01,0zM394.2,109.3a0.8,0.8 0 1,0 0.01,0zM393.6,117.7a0.8,0.8 0 1,0 0.01,0zM387.6,117.8a0.8,0.8 0 1,0 0.01,0zM388.6,108.3a0.8,0.8 0 1,0 0.01,0zM482.9,101.3a0.8,0.8 0 1,0 0.01,0zM478.2,98.7a0.8,0.8 0 1,0 0.01,0zM475.0,106.5a0.8,0.8 0 1,0 0.01,0zM477.0,107.4a0.8,0.8 0 1,0 0.01,0zM480.2,100.4a0.8,0.8 0 1,0 0.01,0zM481.5,99.0a0.8,0.8 0 1,0 0.01,0zM479.5,108.6a0.8,0.8 0 1,0 0.01,0zM423.9,121.6a0.8,0.8 0 1,0 0.01,0zM430.1,122.7a0.8,0.8 0 1,0 0.01,0zM427.8,119.8a0.8,0.8 0 1,0 0.01,0zM455.9,121.2a0.8,0.8 0 1,0 0.01,0zM450.7,121.8a0.8,0.8 0 1,0 0.01,0zM479.3,123.4a0.8,0.8 0 1,0 0.01,0zM481.5,122.8a0.8,0.8 0 1,0 0.01,0z" fill="#9a8ae8" opacity="0.55"/>
<path d="M410.4,71.2L423.1,64.2L439.2,65.4L447.3,73.5L442.7,83.9L427.7,87.3L412.7,83.9Z" fill="#4a48e2" stroke="#4a48e2" stroke-width="2.2" stroke-linejoin="round"/>
<path d="M415.0,72.9L424.9,67.5L437.5,68.4L443.8,74.7L440.2,82.8L428.5,85.5L416.8,82.8Z" fill="#b4a0e4" filter="url(#bl2)"/>
</g></g>
<g clip-path="url(#c48)"><g filter="url(#bl)">
<rect x="254" y="138" width="106" height="106" fill="#e6c48a"/>
<ellipse cx="270.0" cy="150.0" rx="14.0" ry="13.4" fill="#f2e8f4"/>
<ellipse cx="300.0" cy="142.0" rx="10.0" ry="9.6" fill="#e8d8f0"/>
<ellipse cx="277.6" cy="165.0" rx="5.0" ry="4.8" fill="#f8f4f8"/>
<ellipse cx="261.0" cy="202.5" rx="7.0" ry="6.7" fill="#f0ecf6"/>
<ellipse cx="294.4" cy="223.7" rx="5.0" ry="4.8" fill="#f6f2f8"/>
<ellipse cx="256.0" cy="175.0" rx="5.0" ry="4.8" fill="#f0e8f4"/>
<ellipse cx="320.0" cy="140.0" rx="8.0" ry="7.7" fill="#f0d8e8"/>
<ellipse cx="338.6" cy="146.0" rx="5.5" ry="5.3" fill="#e6be80"/>
<ellipse cx="348.6" cy="152.7" rx="6.0" ry="5.8" fill="#e6be80"/>
<ellipse cx="318.5" cy="177.3" rx="8.0" ry="7.7" fill="#e6be80"/>
<ellipse cx="315.0" cy="160.5" rx="5.0" ry="4.8" fill="#e6be80"/>
<ellipse cx="274.3" cy="197.0" rx="10.0" ry="9.6" fill="#e6be80"/>
<ellipse cx="261.0" cy="221.5" rx="7.0" ry="6.7" fill="#e6be80"/>
<ellipse cx="320.7" cy="224.8" rx="9.0" ry="8.6" fill="#e6be80"/>
<ellipse cx="258.1" cy="142.1" rx="6.2" ry="6.0" fill="#da98dc" stroke="#a86890" stroke-width="0.6"/>
<ellipse cx="286.0" cy="146.6" rx="10.1" ry="9.7" fill="#da98dc" stroke="#a86890" stroke-width="0.6"/>
<ellipse cx="268.7" cy="163.9" rx="11.6" ry="11.1" fill="#da98dc" stroke="#a86890" stroke-width="0.6"/>
<ellipse cx="264.3" cy="180.6" rx="10.9" ry="10.5" fill="#da98dc" stroke="#a86890" stroke-width="0.6"/>
<ellipse cx="281.0" cy="180.0" rx="10.9" ry="10.5" fill="#da98dc" stroke="#a86890" stroke-width="0.6"/>
<ellipse cx="300.0" cy="179.0" rx="10.1" ry="9.7" fill="#da98dc" stroke="#a86890" stroke-width="0.6"/>
<ellipse cx="320.7" cy="148.3" rx="9.0" ry="8.6" fill="#da98dc" stroke="#a86890" stroke-width="0.6"/>
<ellipse cx="334.1" cy="160.5" rx="9.6" ry="9.2" fill="#da98dc" stroke="#a86890" stroke-width="0.6"/>
<ellipse cx="352.0" cy="166.0" rx="9.6" ry="9.2" fill="#da98dc" stroke="#a86890" stroke-width="0.6"/>
<ellipse cx="357.5" cy="150.5" rx="6.5" ry="6.2" fill="#da98dc" stroke="#a86890" stroke-width="0.6"/>
<ellipse cx="334.1" cy="178.4" rx="10.1" ry="9.7" fill="#da98dc" stroke="#a86890" stroke-width="0.6"/>
<ellipse cx="353.0" cy="188.4" rx="8.1" ry="7.7" fill="#da98dc" stroke="#a86890" stroke-width="0.6"/>
<ellipse cx="298.8" cy="198.0" rx="9.0" ry="8.6" fill="#da98dc" stroke="#a86890" stroke-width="0.6"/>
<ellipse cx="306.6" cy="214.8" rx="8.1" ry="7.7" fill="#da98dc" stroke="#a86890" stroke-width="0.6"/>
<ellipse cx="298.8" cy="234.8" rx="10.9" ry="10.5" fill="#da98dc" stroke="#a86890" stroke-width="0.6"/>
<ellipse cx="257.6" cy="239.3" rx="6.8" ry="6.5" fill="#da98dc" stroke="#a86890" stroke-width="0.6"/>
<ellipse cx="263.0" cy="190.0" rx="8.1" ry="7.7" fill="#da98dc" stroke="#a86890" stroke-width="0.6"/>
<ellipse cx="314.0" cy="197.0" rx="9.0" ry="8.6" fill="#da98dc" stroke="#a86890" stroke-width="0.6"/>
<ellipse cx="330.8" cy="204.7" rx="10.9" ry="10.5" fill="#da98dc" stroke="#a86890" stroke-width="0.6"/>
<ellipse cx="352.0" cy="196.0" rx="9.4" ry="9.0" fill="#da98dc" stroke="#a86890" stroke-width="0.6"/>
<ellipse cx="310.7" cy="214.8" rx="10.1" ry="9.7" fill="#da98dc" stroke="#a86890" stroke-width="0.6"/>
<ellipse cx="348.6" cy="218.0" rx="10.1" ry="9.7" fill="#da98dc" stroke="#a86890" stroke-width="0.6"/>
<ellipse cx="333.0" cy="231.5" rx="10.1" ry="9.7" fill="#da98dc" stroke="#a86890" stroke-width="0.6"/>
<ellipse cx="348.6" cy="237.0" rx="10.1" ry="9.7" fill="#da98dc" stroke="#a86890" stroke-width="0.6"/>
<ellipse cx="320.7" cy="241.5" rx="8.1" ry="7.7" fill="#da98dc" stroke="#a86890" stroke-width="0.6"/>
<ellipse cx="305.0" cy="233.7" rx="6.8" ry="6.5" fill="#da98dc" stroke="#a86890" stroke-width="0.6"/>
<ellipse cx="258.4" cy="142.4" rx="4.8" ry="4.6" fill="#c070d4" filter="url(#bl2s)"/>
<ellipse cx="286.3" cy="146.9" rx="7.8" ry="7.5" fill="#c070d4" filter="url(#bl2s)"/>
<ellipse cx="269.0" cy="164.2" rx="8.9" ry="8.5" fill="#c070d4" filter="url(#bl2s)"/>
<ellipse cx="264.6" cy="180.9" rx="8.4" ry="8.1" fill="#c070d4" filter="url(#bl2s)"/>
<ellipse cx="281.3" cy="180.3" rx="8.4" ry="8.1" fill="#c070d4" filter="url(#bl2s)"/>
<ellipse cx="300.3" cy="179.3" rx="7.8" ry="7.5" fill="#c070d4" filter="url(#bl2s)"/>
<ellipse cx="321.0" cy="148.6" rx="6.9" ry="6.6" fill="#c070d4" filter="url(#bl2s)"/>
<ellipse cx="334.4" cy="160.8" rx="7.4" ry="7.1" fill="#c070d4" filter="url(#bl2s)"/>
<ellipse cx="352.3" cy="166.3" rx="7.4" ry="7.1" fill="#c070d4" filter="url(#bl2s)"/>
<ellipse cx="357.8" cy="150.8" rx="5.0" ry="4.8" fill="#c070d4" filter="url(#bl2s)"/>
<ellipse cx="334.4" cy="178.7" rx="7.8" ry="7.5" fill="#c070d4" filter="url(#bl2s)"/>
<ellipse cx="353.3" cy="188.7" rx="6.2" ry="6.0" fill="#c070d4" filter="url(#bl2s)"/>
<ellipse cx="299.1" cy="198.3" rx="6.9" ry="6.6" fill="#c070d4" filter="url(#bl2s)"/>
<ellipse cx="306.9" cy="215.1" rx="6.2" ry="6.0" fill="#c070d4" filter="url(#bl2s)"/>
<ellipse cx="299.1" cy="235.1" rx="8.4" ry="8.1" fill="#c070d4" filter="url(#bl2s)"/>
<ellipse cx="257.9" cy="239.6" rx="5.2" ry="5.0" fill="#c070d4" filter="url(#bl2s)"/>
<ellipse cx="263.3" cy="190.3" rx="6.2" ry="6.0" fill="#c070d4" filter="url(#bl2s)"/>
<ellipse cx="314.3" cy="197.3" rx="6.9" ry="6.6" fill="#c070d4" filter="url(#bl2s)"/>
<ellipse cx="331.1" cy="205.0" rx="8.4" ry="8.1" fill="#c070d4" filter="url(#bl2s)"/>
<ellipse cx="352.3" cy="196.3" rx="7.2" ry="6.9" fill="#c070d4" filter="url(#bl2s)"/>
<ellipse cx="311.0" cy="215.1" rx="7.8" ry="7.5" fill="#c070d4" filter="url(#bl2s)"/>
<ellipse cx="348.9" cy="218.3" rx="7.8" ry="7.5" fill="#c070d4" filter="url(#bl2s)"/>
<ellipse cx="333.3" cy="231.8" rx="7.8" ry="7.5" fill="#c070d4" filter="url(#bl2s)"/>
<ellipse cx="348.9" cy="237.3" rx="7.8" ry="7.5" fill="#c070d4" filter="url(#bl2s)"/>
<ellipse cx="321.0" cy="241.8" rx="6.2" ry="6.0" fill="#c070d4" filter="url(#bl2s)"/>
<ellipse cx="305.3" cy="234.0" rx="5.2" ry="5.0" fill="#c070d4" filter="url(#bl2s)"/>
<ellipse cx="258.6" cy="142.6" rx="3.0" ry="2.9" fill="#7a40d0" filter="url(#bl2s)"/>
<ellipse cx="286.5" cy="147.1" rx="4.8" ry="4.6" fill="#7a40d0" filter="url(#bl2s)"/>
<ellipse cx="269.2" cy="164.4" rx="5.5" ry="5.3" fill="#7a40d0" filter="url(#bl2s)"/>
<ellipse cx="264.8" cy="181.1" rx="5.2" ry="5.0" fill="#7a40d0" filter="url(#bl2s)"/>
<ellipse cx="281.5" cy="180.5" rx="5.2" ry="5.0" fill="#7a40d0" filter="url(#bl2s)"/>
<ellipse cx="300.5" cy="179.5" rx="4.8" ry="4.6" fill="#7a40d0" filter="url(#bl2s)"/>
<ellipse cx="321.2" cy="148.8" rx="4.3" ry="4.1" fill="#7a40d0" filter="url(#bl2s)"/>
<ellipse cx="334.6" cy="161.0" rx="4.6" ry="4.4" fill="#7a40d0" filter="url(#bl2s)"/>
<ellipse cx="352.5" cy="166.5" rx="4.6" ry="4.4" fill="#7a40d0" filter="url(#bl2s)"/>
<ellipse cx="358.0" cy="151.0" rx="3.1" ry="3.0" fill="#7a40d0" filter="url(#bl2s)"/>
<ellipse cx="334.6" cy="178.9" rx="4.8" ry="4.6" fill="#7a40d0" filter="url(#bl2s)"/>
<ellipse cx="353.5" cy="188.9" rx="3.8" ry="3.7" fill="#7a40d0" filter="url(#bl2s)"/>
<ellipse cx="299.3" cy="198.5" rx="4.3" ry="4.1" fill="#7a40d0" filter="url(#bl2s)"/>
<ellipse cx="307.1" cy="215.3" rx="3.8" ry="3.7" fill="#7a40d0" filter="url(#bl2s)"/>
<ellipse cx="299.3" cy="235.3" rx="5.2" ry="5.0" fill="#7a40d0" filter="url(#bl2s)"/>
<ellipse cx="258.1" cy="239.8" rx="3.2" ry="3.1" fill="#7a40d0" filter="url(#bl2s)"/>
<ellipse cx="263.5" cy="190.5" rx="3.8" ry="3.7" fill="#7a40d0" filter="url(#bl2s)"/>
<ellipse cx="314.5" cy="197.5" rx="4.3" ry="4.1" fill="#7a40d0" filter="url(#bl2s)"/>
<ellipse cx="331.3" cy="205.2" rx="5.2" ry="5.0" fill="#7a40d0" filter="url(#bl2s)"/>
<ellipse cx="352.5" cy="196.5" rx="4.5" ry="4.3" fill="#7a40d0" filter="url(#bl2s)"/>
<ellipse cx="311.2" cy="215.3" rx="4.8" ry="4.6" fill="#7a40d0" filter="url(#bl2s)"/>
<ellipse cx="349.1" cy="218.5" rx="4.8" ry="4.6" fill="#7a40d0" filter="url(#bl2s)"/>
<ellipse cx="333.5" cy="232.0" rx="4.8" ry="4.6" fill="#7a40d0" filter="url(#bl2s)"/>
<ellipse cx="349.1" cy="237.5" rx="4.8" ry="4.6" fill="#7a40d0" filter="url(#bl2s)"/>
<ellipse cx="321.2" cy="242.0" rx="3.8" ry="3.7" fill="#7a40d0" filter="url(#bl2s)"/>
<ellipse cx="305.5" cy="234.2" rx="3.2" ry="3.1" fill="#7a40d0" filter="url(#bl2s)"/>
<ellipse cx="272.6" cy="143.2" rx="6.5" ry="6.3" fill="#2a1a60"/>
<ellipse cx="257.6" cy="154.4" rx="5.9" ry="5.6" fill="#2a1a60"/>
<ellipse cx="294.4" cy="162.2" rx="9.4" ry="9.0" fill="#2a1a60"/>
<ellipse cx="305.5" cy="163.9" rx="8.4" ry="8.1" fill="#2a1a60"/>
<ellipse cx="255.3" cy="169.5" rx="4.7" ry="4.5" fill="#2a1a60"/>
<ellipse cx="278.8" cy="224.8" rx="11.3" ry="10.8" fill="#2a1a60"/>
<ellipse cx="267.0" cy="240.4" rx="5.9" ry="5.6" fill="#2a1a60"/>
<ellipse cx="256.5" cy="213.6" rx="4.3" ry="4.1" fill="#2a1a60"/>
<ellipse cx="282.0" cy="189.0" rx="5.9" ry="5.6" fill="#2a1a60"/>
<ellipse cx="314.0" cy="189.5" rx="5.9" ry="5.6" fill="#2a1a60"/>
<ellipse cx="354.2" cy="207.0" rx="7.0" ry="6.7" fill="#2a1a60"/>
<ellipse cx="272.6" cy="143.2" rx="5.2" ry="5.0" fill="#3a2cc8" filter="url(#bl2s)"/>
<ellipse cx="257.6" cy="154.4" rx="4.6" ry="4.4" fill="#3a2cc8" filter="url(#bl2s)"/>
<ellipse cx="294.4" cy="162.2" rx="7.8" ry="7.5" fill="#3a2cc8" filter="url(#bl2s)"/>
<ellipse cx="305.5" cy="163.9" rx="6.9" ry="6.6" fill="#3a2cc8" filter="url(#bl2s)"/>
<ellipse cx="255.3" cy="169.5" rx="3.5" ry="3.4" fill="#3a2cc8" filter="url(#bl2s)"/>
<ellipse cx="278.8" cy="224.8" rx="9.5" ry="9.1" fill="#3a2cc8" filter="url(#bl2s)"/>
<ellipse cx="267.0" cy="240.4" rx="4.6" ry="4.4" fill="#3a2cc8" filter="url(#bl2s)"/>
<ellipse cx="256.5" cy="213.6" rx="3.2" ry="3.1" fill="#3a2cc8" filter="url(#bl2s)"/>
<ellipse cx="282.0" cy="189.0" rx="4.6" ry="4.4" fill="#3a2cc8" filter="url(#bl2s)"/>
<ellipse cx="314.0" cy="189.5" rx="4.6" ry="4.4" fill="#3a2cc8" filter="url(#bl2s)"/>
<ellipse cx="354.2" cy="207.0" rx="5.6" ry="5.4" fill="#3a2cc8" filter="url(#bl2s)"/>
</g></g>
<g clip-path="url(#c72)"><g filter="url(#bl)">
<rect x="379" y="138" width="106" height="106" fill="#fff"/>
<ellipse cx="389.6" cy="168.8" rx="7.7" ry="7.4" fill="url(#go)" stroke="#5a2808" stroke-width="1"/>
<ellipse cx="480.8" cy="167.0" rx="6.1" ry="5.9" fill="url(#go)" stroke="#5a2808" stroke-width="1"/>
<ellipse cx="484.5" cy="142.7" rx="3.1" ry="3.0" fill="url(#go)" stroke="#5a2808" stroke-width="1"/>
<ellipse cx="461.8" cy="198.0" rx="7.9" ry="7.7" fill="url(#go)" stroke="#5a2808" stroke-width="1"/>
<ellipse cx="415.7" cy="208.0" rx="7.8" ry="7.6" fill="url(#go)" stroke="#5a2808" stroke-width="1"/>
<ellipse cx="439.2" cy="208.0" rx="7.7" ry="7.4" fill="url(#go)" stroke="#5a2808" stroke-width="1"/>
<ellipse cx="407.4" cy="228.8" rx="8.3" ry="8.0" fill="url(#go)" stroke="#5a2808" stroke-width="1"/>
<ellipse cx="431.2" cy="231.5" rx="6.3" ry="6.1" fill="url(#go)" stroke="#5a2808" stroke-width="1"/>
<path d="M466.1,200.1a0.7,0.7 0 1,0 0.01,0zM465.4,197.8a0.7,0.7 0 1,0 0.01,0zM458.2,197.0a0.7,0.7 0 1,0 0.01,0zM461.5,192.9a0.7,0.7 0 1,0 0.01,0zM456.8,194.5a0.7,0.7 0 1,0 0.01,0zM460.7,194.6a0.7,0.7 0 1,0 0.01,0zM458.2,201.4a0.7,0.7 0 1,0 0.01,0zM460.8,195.3a0.7,0.7 0 1,0 0.01,0zM463.3,194.2a0.7,0.7 0 1,0 0.01,0zM462.1,196.2a0.7,0.7 0 1,0 0.01,0zM461.5,198.7a0.7,0.7 0 1,0 0.01,0zM459.1,199.5a0.7,0.7 0 1,0 0.01,0zM460.1,200.4a0.7,0.7 0 1,0 0.01,0zM464.7,194.1a0.7,0.7 0 1,0 0.01,0zM459.3,201.5a0.7,0.7 0 1,0 0.01,0zM464.2,203.5a0.7,0.7 0 1,0 0.01,0zM465.7,195.4a0.7,0.7 0 1,0 0.01,0zM465.2,202.9a0.7,0.7 0 1,0 0.01,0zM462.1,199.4a0.7,0.7 0 1,0 0.01,0zM458.5,199.9a0.7,0.7 0 1,0 0.01,0zM463.2,196.1a0.7,0.7 0 1,0 0.01,0zM465.6,199.5a0.7,0.7 0 1,0 0.01,0zM435.1,232.5a0.7,0.7 0 1,0 0.01,0zM426.6,231.8a0.7,0.7 0 1,0 0.01,0zM433.4,230.6a0.7,0.7 0 1,0 0.01,0zM432.0,228.1a0.7,0.7 0 1,0 0.01,0zM432.5,231.1a0.7,0.7 0 1,0 0.01,0zM426.5,232.8a0.7,0.7 0 1,0 0.01,0zM433.7,232.4a0.7,0.7 0 1,0 0.01,0zM430.1,234.2a0.7,0.7 0 1,0 0.01,0zM433.3,231.4a0.7,0.7 0 1,0 0.01,0zM432.3,229.2a0.7,0.7 0 1,0 0.01,0zM432.5,230.2a0.7,0.7 0 1,0 0.01,0zM435.1,234.4a0.7,0.7 0 1,0 0.01,0zM435.1,231.8a0.7,0.7 0 1,0 0.01,0zM432.3,235.1a0.7,0.7 0 1,0 0.01,0zM429.6,235.0a0.7,0.7 0 1,0 0.01,0zM429.3,227.7a0.7,0.7 0 1,0 0.01,0zM434.4,234.6a0.7,0.7 0 1,0 0.01,0zM431.5,235.3a0.7,0.7 0 1,0 0.01,0zM432.8,227.5a0.7,0.7 0 1,0 0.01,0zM427.8,230.8a0.7,0.7 0 1,0 0.01,0zM433.8,235.3a0.7,0.7 0 1,0 0.01,0zM427.6,229.1a0.7,0.7 0 1,0 0.01,0zM394.5,167.8a0.7,0.7 0 1,0 0.01,0zM388.3,172.7a0.7,0.7 0 1,0 0.01,0zM391.1,171.6a0.7,0.7 0 1,0 0.01,0zM392.6,165.0a0.7,0.7 0 1,0 0.01,0zM391.7,172.5a0.7,0.7 0 1,0 0.01,0zM385.1,171.7a0.7,0.7 0 1,0 0.01,0zM417.5,204.8a0.7,0.7 0 1,0 0.01,0zM418.0,209.3a0.7,0.7 0 1,0 0.01,0zM412.3,206.6a0.7,0.7 0 1,0 0.01,0zM420.8,209.2a0.7,0.7 0 1,0 0.01,0zM413.1,205.7a0.7,0.7 0 1,0 0.01,0zM419.3,208.7a0.7,0.7 0 1,0 0.01,0zM406.0,228.0a0.7,0.7 0 1,0 0.01,0zM408.4,229.6a0.7,0.7 0 1,0 0.01,0zM412.3,229.8a0.7,0.7 0 1,0 0.01,0zM406.2,223.8a0.7,0.7 0 1,0 0.01,0zM405.8,232.3a0.7,0.7 0 1,0 0.01,0zM413.2,229.2a0.7,0.7 0 1,0 0.01,0z" fill="#fbe8c8" opacity="0.75"/>
<ellipse cx="449.2" cy="225.8" rx="8.2" ry="7.9" fill="url(#gy)" stroke="#7a4a10" stroke-width="0.8"/>
<ellipse cx="445.0" cy="157.7" rx="7.2" ry="7.0" fill="url(#gdb)" stroke="#0e0e34" stroke-width="1.1"/>
<ellipse cx="436.9" cy="172.7" rx="8.0" ry="7.8" fill="url(#gdb)" stroke="#0e0e34" stroke-width="1.1"/>
<ellipse cx="455.4" cy="175.0" rx="7.6" ry="7.4" fill="url(#gdb)" stroke="#0e0e34" stroke-width="1.1"/>
<ellipse cx="473.8" cy="186.0" rx="8.0" ry="7.8" fill="url(#gdb)" stroke="#0e0e34" stroke-width="1.1"/>
<circle cx="443" cy="152.5" r="3.5" fill="#5a2010"/>
<circle cx="427" cy="179.5" r="2" fill="#141450"/>
<circle cx="434" cy="160" r="1.5" fill="#141450"/>
</g></g>
</g>
</svg></body></html>
